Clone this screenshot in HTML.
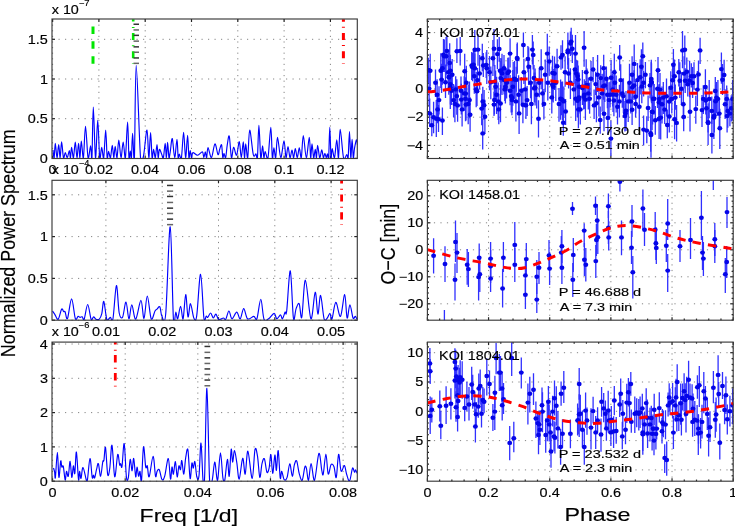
<!DOCTYPE html>
<html><head><meta charset="utf-8"><style>
html,body{margin:0;padding:0;background:#fff;overflow:hidden}
svg{display:block;filter:blur(0.35px)}
text{font-family:"Liberation Sans", sans-serif;stroke:#000;stroke-width:0.15px}
</style></head><body>
<svg width="735" height="526" viewBox="0 0 735 526" font-family='"Liberation Sans", sans-serif'>
<rect width="735" height="526" fill="#fff"/>
<clipPath id="c052"><rect x="52.0" y="19.0" width="305.3" height="139.5"/></clipPath>
<clipPath id="c0427"><rect x="427.4" y="19.0" width="305.80000000000007" height="139.5"/></clipPath>
<clipPath id="c152"><rect x="52.0" y="180.3" width="305.3" height="139.89999999999998"/></clipPath>
<clipPath id="c1427"><rect x="427.4" y="180.3" width="305.80000000000007" height="139.89999999999998"/></clipPath>
<clipPath id="c252"><rect x="52.0" y="342.1" width="305.3" height="139.09999999999997"/></clipPath>
<clipPath id="c2427"><rect x="427.4" y="342.1" width="305.80000000000007" height="139.09999999999997"/></clipPath>
<line x1="52.60" y1="19.0" x2="52.60" y2="158.5" stroke="#858585" stroke-width="1.0" fill="none" stroke-dasharray="1.2 4.4"/>
<line x1="52.60" y1="158.5" x2="52.60" y2="155.5" stroke="#222" stroke-width="1.2"/><line x1="52.60" y1="19.0" x2="52.60" y2="22.0" stroke="#222" stroke-width="1.2"/>
<line x1="98.90" y1="19.0" x2="98.90" y2="158.5" stroke="#858585" stroke-width="1.0" fill="none" stroke-dasharray="1.2 4.4"/>
<line x1="98.90" y1="158.5" x2="98.90" y2="155.5" stroke="#222" stroke-width="1.2"/><line x1="98.90" y1="19.0" x2="98.90" y2="22.0" stroke="#222" stroke-width="1.2"/>
<line x1="145.20" y1="19.0" x2="145.20" y2="158.5" stroke="#858585" stroke-width="1.0" fill="none" stroke-dasharray="1.2 4.4"/>
<line x1="145.20" y1="158.5" x2="145.20" y2="155.5" stroke="#222" stroke-width="1.2"/><line x1="145.20" y1="19.0" x2="145.20" y2="22.0" stroke="#222" stroke-width="1.2"/>
<line x1="191.50" y1="19.0" x2="191.50" y2="158.5" stroke="#858585" stroke-width="1.0" fill="none" stroke-dasharray="1.2 4.4"/>
<line x1="191.50" y1="158.5" x2="191.50" y2="155.5" stroke="#222" stroke-width="1.2"/><line x1="191.50" y1="19.0" x2="191.50" y2="22.0" stroke="#222" stroke-width="1.2"/>
<line x1="237.80" y1="19.0" x2="237.80" y2="158.5" stroke="#858585" stroke-width="1.0" fill="none" stroke-dasharray="1.2 4.4"/>
<line x1="237.80" y1="158.5" x2="237.80" y2="155.5" stroke="#222" stroke-width="1.2"/><line x1="237.80" y1="19.0" x2="237.80" y2="22.0" stroke="#222" stroke-width="1.2"/>
<line x1="284.10" y1="19.0" x2="284.10" y2="158.5" stroke="#858585" stroke-width="1.0" fill="none" stroke-dasharray="1.2 4.4"/>
<line x1="284.10" y1="158.5" x2="284.10" y2="155.5" stroke="#222" stroke-width="1.2"/><line x1="284.10" y1="19.0" x2="284.10" y2="22.0" stroke="#222" stroke-width="1.2"/>
<line x1="330.40" y1="19.0" x2="330.40" y2="158.5" stroke="#858585" stroke-width="1.0" fill="none" stroke-dasharray="1.2 4.4"/>
<line x1="330.40" y1="158.5" x2="330.40" y2="155.5" stroke="#222" stroke-width="1.2"/><line x1="330.40" y1="19.0" x2="330.40" y2="22.0" stroke="#222" stroke-width="1.2"/>
<line x1="52.0" y1="158.40" x2="357.3" y2="158.40" stroke="#858585" stroke-width="1.0" fill="none" stroke-dasharray="1.2 5.3"/>
<line x1="52.0" y1="158.40" x2="55.0" y2="158.40" stroke="#222" stroke-width="1.2"/><line x1="357.3" y1="158.40" x2="354.3" y2="158.40" stroke="#222" stroke-width="1.2"/>
<line x1="52.0" y1="118.70" x2="357.3" y2="118.70" stroke="#858585" stroke-width="1.0" fill="none" stroke-dasharray="1.2 5.3"/>
<line x1="52.0" y1="118.70" x2="55.0" y2="118.70" stroke="#222" stroke-width="1.2"/><line x1="357.3" y1="118.70" x2="354.3" y2="118.70" stroke="#222" stroke-width="1.2"/>
<line x1="52.0" y1="79.00" x2="357.3" y2="79.00" stroke="#858585" stroke-width="1.0" fill="none" stroke-dasharray="1.2 5.3"/>
<line x1="52.0" y1="79.00" x2="55.0" y2="79.00" stroke="#222" stroke-width="1.2"/><line x1="357.3" y1="79.00" x2="354.3" y2="79.00" stroke="#222" stroke-width="1.2"/>
<line x1="52.0" y1="39.30" x2="357.3" y2="39.30" stroke="#858585" stroke-width="1.0" fill="none" stroke-dasharray="1.2 5.3"/>
<line x1="52.0" y1="39.30" x2="55.0" y2="39.30" stroke="#222" stroke-width="1.2"/><line x1="357.3" y1="39.30" x2="354.3" y2="39.30" stroke="#222" stroke-width="1.2"/>
<line x1="105.90" y1="180.3" x2="105.90" y2="320.2" stroke="#858585" stroke-width="1.0" fill="none" stroke-dasharray="1.2 4.4"/>
<line x1="105.90" y1="320.2" x2="105.90" y2="317.2" stroke="#222" stroke-width="1.2"/><line x1="105.90" y1="180.3" x2="105.90" y2="183.3" stroke="#222" stroke-width="1.2"/>
<line x1="162.20" y1="180.3" x2="162.20" y2="320.2" stroke="#858585" stroke-width="1.0" fill="none" stroke-dasharray="1.2 4.4"/>
<line x1="162.20" y1="320.2" x2="162.20" y2="317.2" stroke="#222" stroke-width="1.2"/><line x1="162.20" y1="180.3" x2="162.20" y2="183.3" stroke="#222" stroke-width="1.2"/>
<line x1="218.50" y1="180.3" x2="218.50" y2="320.2" stroke="#858585" stroke-width="1.0" fill="none" stroke-dasharray="1.2 4.4"/>
<line x1="218.50" y1="320.2" x2="218.50" y2="317.2" stroke="#222" stroke-width="1.2"/><line x1="218.50" y1="180.3" x2="218.50" y2="183.3" stroke="#222" stroke-width="1.2"/>
<line x1="274.80" y1="180.3" x2="274.80" y2="320.2" stroke="#858585" stroke-width="1.0" fill="none" stroke-dasharray="1.2 4.4"/>
<line x1="274.80" y1="320.2" x2="274.80" y2="317.2" stroke="#222" stroke-width="1.2"/><line x1="274.80" y1="180.3" x2="274.80" y2="183.3" stroke="#222" stroke-width="1.2"/>
<line x1="331.10" y1="180.3" x2="331.10" y2="320.2" stroke="#858585" stroke-width="1.0" fill="none" stroke-dasharray="1.2 4.4"/>
<line x1="331.10" y1="320.2" x2="331.10" y2="317.2" stroke="#222" stroke-width="1.2"/><line x1="331.10" y1="180.3" x2="331.10" y2="183.3" stroke="#222" stroke-width="1.2"/>
<line x1="52.0" y1="320.20" x2="357.3" y2="320.20" stroke="#858585" stroke-width="1.0" fill="none" stroke-dasharray="1.2 5.3"/>
<line x1="52.0" y1="320.20" x2="55.0" y2="320.20" stroke="#222" stroke-width="1.2"/><line x1="357.3" y1="320.20" x2="354.3" y2="320.20" stroke="#222" stroke-width="1.2"/>
<line x1="52.0" y1="278.40" x2="357.3" y2="278.40" stroke="#858585" stroke-width="1.0" fill="none" stroke-dasharray="1.2 5.3"/>
<line x1="52.0" y1="278.40" x2="55.0" y2="278.40" stroke="#222" stroke-width="1.2"/><line x1="357.3" y1="278.40" x2="354.3" y2="278.40" stroke="#222" stroke-width="1.2"/>
<line x1="52.0" y1="236.60" x2="357.3" y2="236.60" stroke="#858585" stroke-width="1.0" fill="none" stroke-dasharray="1.2 5.3"/>
<line x1="52.0" y1="236.60" x2="55.0" y2="236.60" stroke="#222" stroke-width="1.2"/><line x1="357.3" y1="236.60" x2="354.3" y2="236.60" stroke="#222" stroke-width="1.2"/>
<line x1="52.0" y1="194.80" x2="357.3" y2="194.80" stroke="#858585" stroke-width="1.0" fill="none" stroke-dasharray="1.2 5.3"/>
<line x1="52.0" y1="194.80" x2="55.0" y2="194.80" stroke="#222" stroke-width="1.2"/><line x1="357.3" y1="194.80" x2="354.3" y2="194.80" stroke="#222" stroke-width="1.2"/>
<line x1="52.57" y1="342.1" x2="52.57" y2="481.2" stroke="#858585" stroke-width="1.0" fill="none" stroke-dasharray="1.2 4.4"/>
<line x1="52.57" y1="481.2" x2="52.57" y2="478.2" stroke="#222" stroke-width="1.2"/><line x1="52.57" y1="342.1" x2="52.57" y2="345.1" stroke="#222" stroke-width="1.2"/>
<line x1="125.20" y1="342.1" x2="125.20" y2="481.2" stroke="#858585" stroke-width="1.0" fill="none" stroke-dasharray="1.2 4.4"/>
<line x1="125.20" y1="481.2" x2="125.20" y2="478.2" stroke="#222" stroke-width="1.2"/><line x1="125.20" y1="342.1" x2="125.20" y2="345.1" stroke="#222" stroke-width="1.2"/>
<line x1="197.84" y1="342.1" x2="197.84" y2="481.2" stroke="#858585" stroke-width="1.0" fill="none" stroke-dasharray="1.2 4.4"/>
<line x1="197.84" y1="481.2" x2="197.84" y2="478.2" stroke="#222" stroke-width="1.2"/><line x1="197.84" y1="342.1" x2="197.84" y2="345.1" stroke="#222" stroke-width="1.2"/>
<line x1="270.47" y1="342.1" x2="270.47" y2="481.2" stroke="#858585" stroke-width="1.0" fill="none" stroke-dasharray="1.2 4.4"/>
<line x1="270.47" y1="481.2" x2="270.47" y2="478.2" stroke="#222" stroke-width="1.2"/><line x1="270.47" y1="342.1" x2="270.47" y2="345.1" stroke="#222" stroke-width="1.2"/>
<line x1="343.11" y1="342.1" x2="343.11" y2="481.2" stroke="#858585" stroke-width="1.0" fill="none" stroke-dasharray="1.2 4.4"/>
<line x1="343.11" y1="481.2" x2="343.11" y2="478.2" stroke="#222" stroke-width="1.2"/><line x1="343.11" y1="342.1" x2="343.11" y2="345.1" stroke="#222" stroke-width="1.2"/>
<line x1="52.0" y1="481.20" x2="357.3" y2="481.20" stroke="#858585" stroke-width="1.0" fill="none" stroke-dasharray="1.2 5.3"/>
<line x1="52.0" y1="481.20" x2="55.0" y2="481.20" stroke="#222" stroke-width="1.2"/><line x1="357.3" y1="481.20" x2="354.3" y2="481.20" stroke="#222" stroke-width="1.2"/>
<line x1="52.0" y1="446.90" x2="357.3" y2="446.90" stroke="#858585" stroke-width="1.0" fill="none" stroke-dasharray="1.2 5.3"/>
<line x1="52.0" y1="446.90" x2="55.0" y2="446.90" stroke="#222" stroke-width="1.2"/><line x1="357.3" y1="446.90" x2="354.3" y2="446.90" stroke="#222" stroke-width="1.2"/>
<line x1="52.0" y1="412.60" x2="357.3" y2="412.60" stroke="#858585" stroke-width="1.0" fill="none" stroke-dasharray="1.2 5.3"/>
<line x1="52.0" y1="412.60" x2="55.0" y2="412.60" stroke="#222" stroke-width="1.2"/><line x1="357.3" y1="412.60" x2="354.3" y2="412.60" stroke="#222" stroke-width="1.2"/>
<line x1="52.0" y1="378.30" x2="357.3" y2="378.30" stroke="#858585" stroke-width="1.0" fill="none" stroke-dasharray="1.2 5.3"/>
<line x1="52.0" y1="378.30" x2="55.0" y2="378.30" stroke="#222" stroke-width="1.2"/><line x1="357.3" y1="378.30" x2="354.3" y2="378.30" stroke="#222" stroke-width="1.2"/>
<line x1="52.0" y1="344.00" x2="357.3" y2="344.00" stroke="#858585" stroke-width="1.0" fill="none" stroke-dasharray="1.2 5.3"/>
<line x1="52.0" y1="344.00" x2="55.0" y2="344.00" stroke="#222" stroke-width="1.2"/><line x1="357.3" y1="344.00" x2="354.3" y2="344.00" stroke="#222" stroke-width="1.2"/>
<line x1="427.40" y1="19.0" x2="427.40" y2="158.5" stroke="#858585" stroke-width="1.0" fill="none" stroke-dasharray="1.2 4.4"/>
<line x1="427.40" y1="158.5" x2="427.40" y2="155.5" stroke="#222" stroke-width="1.2"/><line x1="427.40" y1="19.0" x2="427.40" y2="22.0" stroke="#222" stroke-width="1.2"/>
<line x1="488.56" y1="19.0" x2="488.56" y2="158.5" stroke="#858585" stroke-width="1.0" fill="none" stroke-dasharray="1.2 4.4"/>
<line x1="488.56" y1="158.5" x2="488.56" y2="155.5" stroke="#222" stroke-width="1.2"/><line x1="488.56" y1="19.0" x2="488.56" y2="22.0" stroke="#222" stroke-width="1.2"/>
<line x1="549.72" y1="19.0" x2="549.72" y2="158.5" stroke="#858585" stroke-width="1.0" fill="none" stroke-dasharray="1.2 4.4"/>
<line x1="549.72" y1="158.5" x2="549.72" y2="155.5" stroke="#222" stroke-width="1.2"/><line x1="549.72" y1="19.0" x2="549.72" y2="22.0" stroke="#222" stroke-width="1.2"/>
<line x1="610.88" y1="19.0" x2="610.88" y2="158.5" stroke="#858585" stroke-width="1.0" fill="none" stroke-dasharray="1.2 4.4"/>
<line x1="610.88" y1="158.5" x2="610.88" y2="155.5" stroke="#222" stroke-width="1.2"/><line x1="610.88" y1="19.0" x2="610.88" y2="22.0" stroke="#222" stroke-width="1.2"/>
<line x1="672.04" y1="19.0" x2="672.04" y2="158.5" stroke="#858585" stroke-width="1.0" fill="none" stroke-dasharray="1.2 4.4"/>
<line x1="672.04" y1="158.5" x2="672.04" y2="155.5" stroke="#222" stroke-width="1.2"/><line x1="672.04" y1="19.0" x2="672.04" y2="22.0" stroke="#222" stroke-width="1.2"/>
<line x1="733.20" y1="19.0" x2="733.20" y2="158.5" stroke="#858585" stroke-width="1.0" fill="none" stroke-dasharray="1.2 4.4"/>
<line x1="733.20" y1="158.5" x2="733.20" y2="155.5" stroke="#222" stroke-width="1.2"/><line x1="733.20" y1="19.0" x2="733.20" y2="22.0" stroke="#222" stroke-width="1.2"/>
<line x1="439.63" y1="158.5" x2="439.63" y2="156.9" stroke="#222" stroke-width="1.2"/><line x1="439.63" y1="19.0" x2="439.63" y2="20.6" stroke="#222" stroke-width="1.2"/>
<line x1="451.86" y1="158.5" x2="451.86" y2="156.9" stroke="#222" stroke-width="1.2"/><line x1="451.86" y1="19.0" x2="451.86" y2="20.6" stroke="#222" stroke-width="1.2"/>
<line x1="464.10" y1="158.5" x2="464.10" y2="156.9" stroke="#222" stroke-width="1.2"/><line x1="464.10" y1="19.0" x2="464.10" y2="20.6" stroke="#222" stroke-width="1.2"/>
<line x1="476.33" y1="158.5" x2="476.33" y2="156.9" stroke="#222" stroke-width="1.2"/><line x1="476.33" y1="19.0" x2="476.33" y2="20.6" stroke="#222" stroke-width="1.2"/>
<line x1="500.79" y1="158.5" x2="500.79" y2="156.9" stroke="#222" stroke-width="1.2"/><line x1="500.79" y1="19.0" x2="500.79" y2="20.6" stroke="#222" stroke-width="1.2"/>
<line x1="513.02" y1="158.5" x2="513.02" y2="156.9" stroke="#222" stroke-width="1.2"/><line x1="513.02" y1="19.0" x2="513.02" y2="20.6" stroke="#222" stroke-width="1.2"/>
<line x1="525.26" y1="158.5" x2="525.26" y2="156.9" stroke="#222" stroke-width="1.2"/><line x1="525.26" y1="19.0" x2="525.26" y2="20.6" stroke="#222" stroke-width="1.2"/>
<line x1="537.49" y1="158.5" x2="537.49" y2="156.9" stroke="#222" stroke-width="1.2"/><line x1="537.49" y1="19.0" x2="537.49" y2="20.6" stroke="#222" stroke-width="1.2"/>
<line x1="561.95" y1="158.5" x2="561.95" y2="156.9" stroke="#222" stroke-width="1.2"/><line x1="561.95" y1="19.0" x2="561.95" y2="20.6" stroke="#222" stroke-width="1.2"/>
<line x1="574.18" y1="158.5" x2="574.18" y2="156.9" stroke="#222" stroke-width="1.2"/><line x1="574.18" y1="19.0" x2="574.18" y2="20.6" stroke="#222" stroke-width="1.2"/>
<line x1="586.42" y1="158.5" x2="586.42" y2="156.9" stroke="#222" stroke-width="1.2"/><line x1="586.42" y1="19.0" x2="586.42" y2="20.6" stroke="#222" stroke-width="1.2"/>
<line x1="598.65" y1="158.5" x2="598.65" y2="156.9" stroke="#222" stroke-width="1.2"/><line x1="598.65" y1="19.0" x2="598.65" y2="20.6" stroke="#222" stroke-width="1.2"/>
<line x1="623.11" y1="158.5" x2="623.11" y2="156.9" stroke="#222" stroke-width="1.2"/><line x1="623.11" y1="19.0" x2="623.11" y2="20.6" stroke="#222" stroke-width="1.2"/>
<line x1="635.34" y1="158.5" x2="635.34" y2="156.9" stroke="#222" stroke-width="1.2"/><line x1="635.34" y1="19.0" x2="635.34" y2="20.6" stroke="#222" stroke-width="1.2"/>
<line x1="647.58" y1="158.5" x2="647.58" y2="156.9" stroke="#222" stroke-width="1.2"/><line x1="647.58" y1="19.0" x2="647.58" y2="20.6" stroke="#222" stroke-width="1.2"/>
<line x1="659.81" y1="158.5" x2="659.81" y2="156.9" stroke="#222" stroke-width="1.2"/><line x1="659.81" y1="19.0" x2="659.81" y2="20.6" stroke="#222" stroke-width="1.2"/>
<line x1="684.27" y1="158.5" x2="684.27" y2="156.9" stroke="#222" stroke-width="1.2"/><line x1="684.27" y1="19.0" x2="684.27" y2="20.6" stroke="#222" stroke-width="1.2"/>
<line x1="696.50" y1="158.5" x2="696.50" y2="156.9" stroke="#222" stroke-width="1.2"/><line x1="696.50" y1="19.0" x2="696.50" y2="20.6" stroke="#222" stroke-width="1.2"/>
<line x1="708.74" y1="158.5" x2="708.74" y2="156.9" stroke="#222" stroke-width="1.2"/><line x1="708.74" y1="19.0" x2="708.74" y2="20.6" stroke="#222" stroke-width="1.2"/>
<line x1="720.97" y1="158.5" x2="720.97" y2="156.9" stroke="#222" stroke-width="1.2"/><line x1="720.97" y1="19.0" x2="720.97" y2="20.6" stroke="#222" stroke-width="1.2"/>
<line x1="427.4" y1="145.40" x2="733.2" y2="145.40" stroke="#858585" stroke-width="1.0" fill="none" stroke-dasharray="1.2 5.3"/>
<line x1="427.4" y1="145.40" x2="430.4" y2="145.40" stroke="#222" stroke-width="1.2"/><line x1="733.2" y1="145.40" x2="730.2" y2="145.40" stroke="#222" stroke-width="1.2"/>
<line x1="427.4" y1="117.20" x2="733.2" y2="117.20" stroke="#858585" stroke-width="1.0" fill="none" stroke-dasharray="1.2 5.3"/>
<line x1="427.4" y1="117.20" x2="430.4" y2="117.20" stroke="#222" stroke-width="1.2"/><line x1="733.2" y1="117.20" x2="730.2" y2="117.20" stroke="#222" stroke-width="1.2"/>
<line x1="427.4" y1="89.00" x2="733.2" y2="89.00" stroke="#858585" stroke-width="1.0" fill="none" stroke-dasharray="1.2 5.3"/>
<line x1="427.4" y1="89.00" x2="430.4" y2="89.00" stroke="#222" stroke-width="1.2"/><line x1="733.2" y1="89.00" x2="730.2" y2="89.00" stroke="#222" stroke-width="1.2"/>
<line x1="427.4" y1="60.80" x2="733.2" y2="60.80" stroke="#858585" stroke-width="1.0" fill="none" stroke-dasharray="1.2 5.3"/>
<line x1="427.4" y1="60.80" x2="430.4" y2="60.80" stroke="#222" stroke-width="1.2"/><line x1="733.2" y1="60.80" x2="730.2" y2="60.80" stroke="#222" stroke-width="1.2"/>
<line x1="427.4" y1="32.60" x2="733.2" y2="32.60" stroke="#858585" stroke-width="1.0" fill="none" stroke-dasharray="1.2 5.3"/>
<line x1="427.4" y1="32.60" x2="430.4" y2="32.60" stroke="#222" stroke-width="1.2"/><line x1="733.2" y1="32.60" x2="730.2" y2="32.60" stroke="#222" stroke-width="1.2"/>
<line x1="427.4" y1="156.68" x2="429.0" y2="156.68" stroke="#222" stroke-width="1.2"/><line x1="733.2" y1="156.68" x2="731.6" y2="156.68" stroke="#222" stroke-width="1.2"/>
<line x1="427.4" y1="151.04" x2="429.0" y2="151.04" stroke="#222" stroke-width="1.2"/><line x1="733.2" y1="151.04" x2="731.6" y2="151.04" stroke="#222" stroke-width="1.2"/>
<line x1="427.4" y1="139.76" x2="429.0" y2="139.76" stroke="#222" stroke-width="1.2"/><line x1="733.2" y1="139.76" x2="731.6" y2="139.76" stroke="#222" stroke-width="1.2"/>
<line x1="427.4" y1="134.12" x2="429.0" y2="134.12" stroke="#222" stroke-width="1.2"/><line x1="733.2" y1="134.12" x2="731.6" y2="134.12" stroke="#222" stroke-width="1.2"/>
<line x1="427.4" y1="128.48" x2="429.0" y2="128.48" stroke="#222" stroke-width="1.2"/><line x1="733.2" y1="128.48" x2="731.6" y2="128.48" stroke="#222" stroke-width="1.2"/>
<line x1="427.4" y1="122.84" x2="429.0" y2="122.84" stroke="#222" stroke-width="1.2"/><line x1="733.2" y1="122.84" x2="731.6" y2="122.84" stroke="#222" stroke-width="1.2"/>
<line x1="427.4" y1="111.56" x2="429.0" y2="111.56" stroke="#222" stroke-width="1.2"/><line x1="733.2" y1="111.56" x2="731.6" y2="111.56" stroke="#222" stroke-width="1.2"/>
<line x1="427.4" y1="105.92" x2="429.0" y2="105.92" stroke="#222" stroke-width="1.2"/><line x1="733.2" y1="105.92" x2="731.6" y2="105.92" stroke="#222" stroke-width="1.2"/>
<line x1="427.4" y1="100.28" x2="429.0" y2="100.28" stroke="#222" stroke-width="1.2"/><line x1="733.2" y1="100.28" x2="731.6" y2="100.28" stroke="#222" stroke-width="1.2"/>
<line x1="427.4" y1="94.64" x2="429.0" y2="94.64" stroke="#222" stroke-width="1.2"/><line x1="733.2" y1="94.64" x2="731.6" y2="94.64" stroke="#222" stroke-width="1.2"/>
<line x1="427.4" y1="83.36" x2="429.0" y2="83.36" stroke="#222" stroke-width="1.2"/><line x1="733.2" y1="83.36" x2="731.6" y2="83.36" stroke="#222" stroke-width="1.2"/>
<line x1="427.4" y1="77.72" x2="429.0" y2="77.72" stroke="#222" stroke-width="1.2"/><line x1="733.2" y1="77.72" x2="731.6" y2="77.72" stroke="#222" stroke-width="1.2"/>
<line x1="427.4" y1="72.08" x2="429.0" y2="72.08" stroke="#222" stroke-width="1.2"/><line x1="733.2" y1="72.08" x2="731.6" y2="72.08" stroke="#222" stroke-width="1.2"/>
<line x1="427.4" y1="66.44" x2="429.0" y2="66.44" stroke="#222" stroke-width="1.2"/><line x1="733.2" y1="66.44" x2="731.6" y2="66.44" stroke="#222" stroke-width="1.2"/>
<line x1="427.4" y1="55.16" x2="429.0" y2="55.16" stroke="#222" stroke-width="1.2"/><line x1="733.2" y1="55.16" x2="731.6" y2="55.16" stroke="#222" stroke-width="1.2"/>
<line x1="427.4" y1="49.52" x2="429.0" y2="49.52" stroke="#222" stroke-width="1.2"/><line x1="733.2" y1="49.52" x2="731.6" y2="49.52" stroke="#222" stroke-width="1.2"/>
<line x1="427.4" y1="43.88" x2="429.0" y2="43.88" stroke="#222" stroke-width="1.2"/><line x1="733.2" y1="43.88" x2="731.6" y2="43.88" stroke="#222" stroke-width="1.2"/>
<line x1="427.4" y1="38.24" x2="429.0" y2="38.24" stroke="#222" stroke-width="1.2"/><line x1="733.2" y1="38.24" x2="731.6" y2="38.24" stroke="#222" stroke-width="1.2"/>
<line x1="427.4" y1="26.96" x2="429.0" y2="26.96" stroke="#222" stroke-width="1.2"/><line x1="733.2" y1="26.96" x2="731.6" y2="26.96" stroke="#222" stroke-width="1.2"/>
<line x1="427.4" y1="21.32" x2="429.0" y2="21.32" stroke="#222" stroke-width="1.2"/><line x1="733.2" y1="21.32" x2="731.6" y2="21.32" stroke="#222" stroke-width="1.2"/>
<line x1="427.40" y1="180.3" x2="427.40" y2="320.2" stroke="#858585" stroke-width="1.0" fill="none" stroke-dasharray="1.2 4.4"/>
<line x1="427.40" y1="320.2" x2="427.40" y2="317.2" stroke="#222" stroke-width="1.2"/><line x1="427.40" y1="180.3" x2="427.40" y2="183.3" stroke="#222" stroke-width="1.2"/>
<line x1="488.56" y1="180.3" x2="488.56" y2="320.2" stroke="#858585" stroke-width="1.0" fill="none" stroke-dasharray="1.2 4.4"/>
<line x1="488.56" y1="320.2" x2="488.56" y2="317.2" stroke="#222" stroke-width="1.2"/><line x1="488.56" y1="180.3" x2="488.56" y2="183.3" stroke="#222" stroke-width="1.2"/>
<line x1="549.72" y1="180.3" x2="549.72" y2="320.2" stroke="#858585" stroke-width="1.0" fill="none" stroke-dasharray="1.2 4.4"/>
<line x1="549.72" y1="320.2" x2="549.72" y2="317.2" stroke="#222" stroke-width="1.2"/><line x1="549.72" y1="180.3" x2="549.72" y2="183.3" stroke="#222" stroke-width="1.2"/>
<line x1="610.88" y1="180.3" x2="610.88" y2="320.2" stroke="#858585" stroke-width="1.0" fill="none" stroke-dasharray="1.2 4.4"/>
<line x1="610.88" y1="320.2" x2="610.88" y2="317.2" stroke="#222" stroke-width="1.2"/><line x1="610.88" y1="180.3" x2="610.88" y2="183.3" stroke="#222" stroke-width="1.2"/>
<line x1="672.04" y1="180.3" x2="672.04" y2="320.2" stroke="#858585" stroke-width="1.0" fill="none" stroke-dasharray="1.2 4.4"/>
<line x1="672.04" y1="320.2" x2="672.04" y2="317.2" stroke="#222" stroke-width="1.2"/><line x1="672.04" y1="180.3" x2="672.04" y2="183.3" stroke="#222" stroke-width="1.2"/>
<line x1="733.20" y1="180.3" x2="733.20" y2="320.2" stroke="#858585" stroke-width="1.0" fill="none" stroke-dasharray="1.2 4.4"/>
<line x1="733.20" y1="320.2" x2="733.20" y2="317.2" stroke="#222" stroke-width="1.2"/><line x1="733.20" y1="180.3" x2="733.20" y2="183.3" stroke="#222" stroke-width="1.2"/>
<line x1="439.63" y1="320.2" x2="439.63" y2="318.59999999999997" stroke="#222" stroke-width="1.2"/><line x1="439.63" y1="180.3" x2="439.63" y2="181.9" stroke="#222" stroke-width="1.2"/>
<line x1="451.86" y1="320.2" x2="451.86" y2="318.59999999999997" stroke="#222" stroke-width="1.2"/><line x1="451.86" y1="180.3" x2="451.86" y2="181.9" stroke="#222" stroke-width="1.2"/>
<line x1="464.10" y1="320.2" x2="464.10" y2="318.59999999999997" stroke="#222" stroke-width="1.2"/><line x1="464.10" y1="180.3" x2="464.10" y2="181.9" stroke="#222" stroke-width="1.2"/>
<line x1="476.33" y1="320.2" x2="476.33" y2="318.59999999999997" stroke="#222" stroke-width="1.2"/><line x1="476.33" y1="180.3" x2="476.33" y2="181.9" stroke="#222" stroke-width="1.2"/>
<line x1="500.79" y1="320.2" x2="500.79" y2="318.59999999999997" stroke="#222" stroke-width="1.2"/><line x1="500.79" y1="180.3" x2="500.79" y2="181.9" stroke="#222" stroke-width="1.2"/>
<line x1="513.02" y1="320.2" x2="513.02" y2="318.59999999999997" stroke="#222" stroke-width="1.2"/><line x1="513.02" y1="180.3" x2="513.02" y2="181.9" stroke="#222" stroke-width="1.2"/>
<line x1="525.26" y1="320.2" x2="525.26" y2="318.59999999999997" stroke="#222" stroke-width="1.2"/><line x1="525.26" y1="180.3" x2="525.26" y2="181.9" stroke="#222" stroke-width="1.2"/>
<line x1="537.49" y1="320.2" x2="537.49" y2="318.59999999999997" stroke="#222" stroke-width="1.2"/><line x1="537.49" y1="180.3" x2="537.49" y2="181.9" stroke="#222" stroke-width="1.2"/>
<line x1="561.95" y1="320.2" x2="561.95" y2="318.59999999999997" stroke="#222" stroke-width="1.2"/><line x1="561.95" y1="180.3" x2="561.95" y2="181.9" stroke="#222" stroke-width="1.2"/>
<line x1="574.18" y1="320.2" x2="574.18" y2="318.59999999999997" stroke="#222" stroke-width="1.2"/><line x1="574.18" y1="180.3" x2="574.18" y2="181.9" stroke="#222" stroke-width="1.2"/>
<line x1="586.42" y1="320.2" x2="586.42" y2="318.59999999999997" stroke="#222" stroke-width="1.2"/><line x1="586.42" y1="180.3" x2="586.42" y2="181.9" stroke="#222" stroke-width="1.2"/>
<line x1="598.65" y1="320.2" x2="598.65" y2="318.59999999999997" stroke="#222" stroke-width="1.2"/><line x1="598.65" y1="180.3" x2="598.65" y2="181.9" stroke="#222" stroke-width="1.2"/>
<line x1="623.11" y1="320.2" x2="623.11" y2="318.59999999999997" stroke="#222" stroke-width="1.2"/><line x1="623.11" y1="180.3" x2="623.11" y2="181.9" stroke="#222" stroke-width="1.2"/>
<line x1="635.34" y1="320.2" x2="635.34" y2="318.59999999999997" stroke="#222" stroke-width="1.2"/><line x1="635.34" y1="180.3" x2="635.34" y2="181.9" stroke="#222" stroke-width="1.2"/>
<line x1="647.58" y1="320.2" x2="647.58" y2="318.59999999999997" stroke="#222" stroke-width="1.2"/><line x1="647.58" y1="180.3" x2="647.58" y2="181.9" stroke="#222" stroke-width="1.2"/>
<line x1="659.81" y1="320.2" x2="659.81" y2="318.59999999999997" stroke="#222" stroke-width="1.2"/><line x1="659.81" y1="180.3" x2="659.81" y2="181.9" stroke="#222" stroke-width="1.2"/>
<line x1="684.27" y1="320.2" x2="684.27" y2="318.59999999999997" stroke="#222" stroke-width="1.2"/><line x1="684.27" y1="180.3" x2="684.27" y2="181.9" stroke="#222" stroke-width="1.2"/>
<line x1="696.50" y1="320.2" x2="696.50" y2="318.59999999999997" stroke="#222" stroke-width="1.2"/><line x1="696.50" y1="180.3" x2="696.50" y2="181.9" stroke="#222" stroke-width="1.2"/>
<line x1="708.74" y1="320.2" x2="708.74" y2="318.59999999999997" stroke="#222" stroke-width="1.2"/><line x1="708.74" y1="180.3" x2="708.74" y2="181.9" stroke="#222" stroke-width="1.2"/>
<line x1="720.97" y1="320.2" x2="720.97" y2="318.59999999999997" stroke="#222" stroke-width="1.2"/><line x1="720.97" y1="180.3" x2="720.97" y2="181.9" stroke="#222" stroke-width="1.2"/>
<line x1="427.4" y1="303.80" x2="733.2" y2="303.80" stroke="#858585" stroke-width="1.0" fill="none" stroke-dasharray="1.2 5.3"/>
<line x1="427.4" y1="303.80" x2="430.4" y2="303.80" stroke="#222" stroke-width="1.2"/><line x1="733.2" y1="303.80" x2="730.2" y2="303.80" stroke="#222" stroke-width="1.2"/>
<line x1="427.4" y1="276.80" x2="733.2" y2="276.80" stroke="#858585" stroke-width="1.0" fill="none" stroke-dasharray="1.2 5.3"/>
<line x1="427.4" y1="276.80" x2="430.4" y2="276.80" stroke="#222" stroke-width="1.2"/><line x1="733.2" y1="276.80" x2="730.2" y2="276.80" stroke="#222" stroke-width="1.2"/>
<line x1="427.4" y1="249.80" x2="733.2" y2="249.80" stroke="#858585" stroke-width="1.0" fill="none" stroke-dasharray="1.2 5.3"/>
<line x1="427.4" y1="249.80" x2="430.4" y2="249.80" stroke="#222" stroke-width="1.2"/><line x1="733.2" y1="249.80" x2="730.2" y2="249.80" stroke="#222" stroke-width="1.2"/>
<line x1="427.4" y1="222.80" x2="733.2" y2="222.80" stroke="#858585" stroke-width="1.0" fill="none" stroke-dasharray="1.2 5.3"/>
<line x1="427.4" y1="222.80" x2="430.4" y2="222.80" stroke="#222" stroke-width="1.2"/><line x1="733.2" y1="222.80" x2="730.2" y2="222.80" stroke="#222" stroke-width="1.2"/>
<line x1="427.4" y1="195.80" x2="733.2" y2="195.80" stroke="#858585" stroke-width="1.0" fill="none" stroke-dasharray="1.2 5.3"/>
<line x1="427.4" y1="195.80" x2="430.4" y2="195.80" stroke="#222" stroke-width="1.2"/><line x1="733.2" y1="195.80" x2="730.2" y2="195.80" stroke="#222" stroke-width="1.2"/>
<line x1="427.4" y1="320.00" x2="429.0" y2="320.00" stroke="#222" stroke-width="1.2"/><line x1="733.2" y1="320.00" x2="731.6" y2="320.00" stroke="#222" stroke-width="1.2"/>
<line x1="427.4" y1="314.60" x2="429.0" y2="314.60" stroke="#222" stroke-width="1.2"/><line x1="733.2" y1="314.60" x2="731.6" y2="314.60" stroke="#222" stroke-width="1.2"/>
<line x1="427.4" y1="309.20" x2="429.0" y2="309.20" stroke="#222" stroke-width="1.2"/><line x1="733.2" y1="309.20" x2="731.6" y2="309.20" stroke="#222" stroke-width="1.2"/>
<line x1="427.4" y1="298.40" x2="429.0" y2="298.40" stroke="#222" stroke-width="1.2"/><line x1="733.2" y1="298.40" x2="731.6" y2="298.40" stroke="#222" stroke-width="1.2"/>
<line x1="427.4" y1="293.00" x2="429.0" y2="293.00" stroke="#222" stroke-width="1.2"/><line x1="733.2" y1="293.00" x2="731.6" y2="293.00" stroke="#222" stroke-width="1.2"/>
<line x1="427.4" y1="287.60" x2="429.0" y2="287.60" stroke="#222" stroke-width="1.2"/><line x1="733.2" y1="287.60" x2="731.6" y2="287.60" stroke="#222" stroke-width="1.2"/>
<line x1="427.4" y1="282.20" x2="429.0" y2="282.20" stroke="#222" stroke-width="1.2"/><line x1="733.2" y1="282.20" x2="731.6" y2="282.20" stroke="#222" stroke-width="1.2"/>
<line x1="427.4" y1="271.40" x2="429.0" y2="271.40" stroke="#222" stroke-width="1.2"/><line x1="733.2" y1="271.40" x2="731.6" y2="271.40" stroke="#222" stroke-width="1.2"/>
<line x1="427.4" y1="266.00" x2="429.0" y2="266.00" stroke="#222" stroke-width="1.2"/><line x1="733.2" y1="266.00" x2="731.6" y2="266.00" stroke="#222" stroke-width="1.2"/>
<line x1="427.4" y1="260.60" x2="429.0" y2="260.60" stroke="#222" stroke-width="1.2"/><line x1="733.2" y1="260.60" x2="731.6" y2="260.60" stroke="#222" stroke-width="1.2"/>
<line x1="427.4" y1="255.20" x2="429.0" y2="255.20" stroke="#222" stroke-width="1.2"/><line x1="733.2" y1="255.20" x2="731.6" y2="255.20" stroke="#222" stroke-width="1.2"/>
<line x1="427.4" y1="244.40" x2="429.0" y2="244.40" stroke="#222" stroke-width="1.2"/><line x1="733.2" y1="244.40" x2="731.6" y2="244.40" stroke="#222" stroke-width="1.2"/>
<line x1="427.4" y1="239.00" x2="429.0" y2="239.00" stroke="#222" stroke-width="1.2"/><line x1="733.2" y1="239.00" x2="731.6" y2="239.00" stroke="#222" stroke-width="1.2"/>
<line x1="427.4" y1="233.60" x2="429.0" y2="233.60" stroke="#222" stroke-width="1.2"/><line x1="733.2" y1="233.60" x2="731.6" y2="233.60" stroke="#222" stroke-width="1.2"/>
<line x1="427.4" y1="228.20" x2="429.0" y2="228.20" stroke="#222" stroke-width="1.2"/><line x1="733.2" y1="228.20" x2="731.6" y2="228.20" stroke="#222" stroke-width="1.2"/>
<line x1="427.4" y1="217.40" x2="429.0" y2="217.40" stroke="#222" stroke-width="1.2"/><line x1="733.2" y1="217.40" x2="731.6" y2="217.40" stroke="#222" stroke-width="1.2"/>
<line x1="427.4" y1="212.00" x2="429.0" y2="212.00" stroke="#222" stroke-width="1.2"/><line x1="733.2" y1="212.00" x2="731.6" y2="212.00" stroke="#222" stroke-width="1.2"/>
<line x1="427.4" y1="206.60" x2="429.0" y2="206.60" stroke="#222" stroke-width="1.2"/><line x1="733.2" y1="206.60" x2="731.6" y2="206.60" stroke="#222" stroke-width="1.2"/>
<line x1="427.4" y1="201.20" x2="429.0" y2="201.20" stroke="#222" stroke-width="1.2"/><line x1="733.2" y1="201.20" x2="731.6" y2="201.20" stroke="#222" stroke-width="1.2"/>
<line x1="427.4" y1="190.40" x2="429.0" y2="190.40" stroke="#222" stroke-width="1.2"/><line x1="733.2" y1="190.40" x2="731.6" y2="190.40" stroke="#222" stroke-width="1.2"/>
<line x1="427.4" y1="185.00" x2="429.0" y2="185.00" stroke="#222" stroke-width="1.2"/><line x1="733.2" y1="185.00" x2="731.6" y2="185.00" stroke="#222" stroke-width="1.2"/>
<line x1="427.40" y1="342.1" x2="427.40" y2="481.2" stroke="#858585" stroke-width="1.0" fill="none" stroke-dasharray="1.2 4.4"/>
<line x1="427.40" y1="481.2" x2="427.40" y2="478.2" stroke="#222" stroke-width="1.2"/><line x1="427.40" y1="342.1" x2="427.40" y2="345.1" stroke="#222" stroke-width="1.2"/>
<line x1="488.56" y1="342.1" x2="488.56" y2="481.2" stroke="#858585" stroke-width="1.0" fill="none" stroke-dasharray="1.2 4.4"/>
<line x1="488.56" y1="481.2" x2="488.56" y2="478.2" stroke="#222" stroke-width="1.2"/><line x1="488.56" y1="342.1" x2="488.56" y2="345.1" stroke="#222" stroke-width="1.2"/>
<line x1="549.72" y1="342.1" x2="549.72" y2="481.2" stroke="#858585" stroke-width="1.0" fill="none" stroke-dasharray="1.2 4.4"/>
<line x1="549.72" y1="481.2" x2="549.72" y2="478.2" stroke="#222" stroke-width="1.2"/><line x1="549.72" y1="342.1" x2="549.72" y2="345.1" stroke="#222" stroke-width="1.2"/>
<line x1="610.88" y1="342.1" x2="610.88" y2="481.2" stroke="#858585" stroke-width="1.0" fill="none" stroke-dasharray="1.2 4.4"/>
<line x1="610.88" y1="481.2" x2="610.88" y2="478.2" stroke="#222" stroke-width="1.2"/><line x1="610.88" y1="342.1" x2="610.88" y2="345.1" stroke="#222" stroke-width="1.2"/>
<line x1="672.04" y1="342.1" x2="672.04" y2="481.2" stroke="#858585" stroke-width="1.0" fill="none" stroke-dasharray="1.2 4.4"/>
<line x1="672.04" y1="481.2" x2="672.04" y2="478.2" stroke="#222" stroke-width="1.2"/><line x1="672.04" y1="342.1" x2="672.04" y2="345.1" stroke="#222" stroke-width="1.2"/>
<line x1="733.20" y1="342.1" x2="733.20" y2="481.2" stroke="#858585" stroke-width="1.0" fill="none" stroke-dasharray="1.2 4.4"/>
<line x1="733.20" y1="481.2" x2="733.20" y2="478.2" stroke="#222" stroke-width="1.2"/><line x1="733.20" y1="342.1" x2="733.20" y2="345.1" stroke="#222" stroke-width="1.2"/>
<line x1="439.63" y1="481.2" x2="439.63" y2="479.59999999999997" stroke="#222" stroke-width="1.2"/><line x1="439.63" y1="342.1" x2="439.63" y2="343.70000000000005" stroke="#222" stroke-width="1.2"/>
<line x1="451.86" y1="481.2" x2="451.86" y2="479.59999999999997" stroke="#222" stroke-width="1.2"/><line x1="451.86" y1="342.1" x2="451.86" y2="343.70000000000005" stroke="#222" stroke-width="1.2"/>
<line x1="464.10" y1="481.2" x2="464.10" y2="479.59999999999997" stroke="#222" stroke-width="1.2"/><line x1="464.10" y1="342.1" x2="464.10" y2="343.70000000000005" stroke="#222" stroke-width="1.2"/>
<line x1="476.33" y1="481.2" x2="476.33" y2="479.59999999999997" stroke="#222" stroke-width="1.2"/><line x1="476.33" y1="342.1" x2="476.33" y2="343.70000000000005" stroke="#222" stroke-width="1.2"/>
<line x1="500.79" y1="481.2" x2="500.79" y2="479.59999999999997" stroke="#222" stroke-width="1.2"/><line x1="500.79" y1="342.1" x2="500.79" y2="343.70000000000005" stroke="#222" stroke-width="1.2"/>
<line x1="513.02" y1="481.2" x2="513.02" y2="479.59999999999997" stroke="#222" stroke-width="1.2"/><line x1="513.02" y1="342.1" x2="513.02" y2="343.70000000000005" stroke="#222" stroke-width="1.2"/>
<line x1="525.26" y1="481.2" x2="525.26" y2="479.59999999999997" stroke="#222" stroke-width="1.2"/><line x1="525.26" y1="342.1" x2="525.26" y2="343.70000000000005" stroke="#222" stroke-width="1.2"/>
<line x1="537.49" y1="481.2" x2="537.49" y2="479.59999999999997" stroke="#222" stroke-width="1.2"/><line x1="537.49" y1="342.1" x2="537.49" y2="343.70000000000005" stroke="#222" stroke-width="1.2"/>
<line x1="561.95" y1="481.2" x2="561.95" y2="479.59999999999997" stroke="#222" stroke-width="1.2"/><line x1="561.95" y1="342.1" x2="561.95" y2="343.70000000000005" stroke="#222" stroke-width="1.2"/>
<line x1="574.18" y1="481.2" x2="574.18" y2="479.59999999999997" stroke="#222" stroke-width="1.2"/><line x1="574.18" y1="342.1" x2="574.18" y2="343.70000000000005" stroke="#222" stroke-width="1.2"/>
<line x1="586.42" y1="481.2" x2="586.42" y2="479.59999999999997" stroke="#222" stroke-width="1.2"/><line x1="586.42" y1="342.1" x2="586.42" y2="343.70000000000005" stroke="#222" stroke-width="1.2"/>
<line x1="598.65" y1="481.2" x2="598.65" y2="479.59999999999997" stroke="#222" stroke-width="1.2"/><line x1="598.65" y1="342.1" x2="598.65" y2="343.70000000000005" stroke="#222" stroke-width="1.2"/>
<line x1="623.11" y1="481.2" x2="623.11" y2="479.59999999999997" stroke="#222" stroke-width="1.2"/><line x1="623.11" y1="342.1" x2="623.11" y2="343.70000000000005" stroke="#222" stroke-width="1.2"/>
<line x1="635.34" y1="481.2" x2="635.34" y2="479.59999999999997" stroke="#222" stroke-width="1.2"/><line x1="635.34" y1="342.1" x2="635.34" y2="343.70000000000005" stroke="#222" stroke-width="1.2"/>
<line x1="647.58" y1="481.2" x2="647.58" y2="479.59999999999997" stroke="#222" stroke-width="1.2"/><line x1="647.58" y1="342.1" x2="647.58" y2="343.70000000000005" stroke="#222" stroke-width="1.2"/>
<line x1="659.81" y1="481.2" x2="659.81" y2="479.59999999999997" stroke="#222" stroke-width="1.2"/><line x1="659.81" y1="342.1" x2="659.81" y2="343.70000000000005" stroke="#222" stroke-width="1.2"/>
<line x1="684.27" y1="481.2" x2="684.27" y2="479.59999999999997" stroke="#222" stroke-width="1.2"/><line x1="684.27" y1="342.1" x2="684.27" y2="343.70000000000005" stroke="#222" stroke-width="1.2"/>
<line x1="696.50" y1="481.2" x2="696.50" y2="479.59999999999997" stroke="#222" stroke-width="1.2"/><line x1="696.50" y1="342.1" x2="696.50" y2="343.70000000000005" stroke="#222" stroke-width="1.2"/>
<line x1="708.74" y1="481.2" x2="708.74" y2="479.59999999999997" stroke="#222" stroke-width="1.2"/><line x1="708.74" y1="342.1" x2="708.74" y2="343.70000000000005" stroke="#222" stroke-width="1.2"/>
<line x1="720.97" y1="481.2" x2="720.97" y2="479.59999999999997" stroke="#222" stroke-width="1.2"/><line x1="720.97" y1="342.1" x2="720.97" y2="343.70000000000005" stroke="#222" stroke-width="1.2"/>
<line x1="427.4" y1="469.90" x2="733.2" y2="469.90" stroke="#858585" stroke-width="1.0" fill="none" stroke-dasharray="1.2 5.3"/>
<line x1="427.4" y1="469.90" x2="430.4" y2="469.90" stroke="#222" stroke-width="1.2"/><line x1="733.2" y1="469.90" x2="730.2" y2="469.90" stroke="#222" stroke-width="1.2"/>
<line x1="427.4" y1="440.60" x2="733.2" y2="440.60" stroke="#858585" stroke-width="1.0" fill="none" stroke-dasharray="1.2 5.3"/>
<line x1="427.4" y1="440.60" x2="430.4" y2="440.60" stroke="#222" stroke-width="1.2"/><line x1="733.2" y1="440.60" x2="730.2" y2="440.60" stroke="#222" stroke-width="1.2"/>
<line x1="427.4" y1="411.30" x2="733.2" y2="411.30" stroke="#858585" stroke-width="1.0" fill="none" stroke-dasharray="1.2 5.3"/>
<line x1="427.4" y1="411.30" x2="430.4" y2="411.30" stroke="#222" stroke-width="1.2"/><line x1="733.2" y1="411.30" x2="730.2" y2="411.30" stroke="#222" stroke-width="1.2"/>
<line x1="427.4" y1="382.00" x2="733.2" y2="382.00" stroke="#858585" stroke-width="1.0" fill="none" stroke-dasharray="1.2 5.3"/>
<line x1="427.4" y1="382.00" x2="430.4" y2="382.00" stroke="#222" stroke-width="1.2"/><line x1="733.2" y1="382.00" x2="730.2" y2="382.00" stroke="#222" stroke-width="1.2"/>
<line x1="427.4" y1="352.70" x2="733.2" y2="352.70" stroke="#858585" stroke-width="1.0" fill="none" stroke-dasharray="1.2 5.3"/>
<line x1="427.4" y1="352.70" x2="430.4" y2="352.70" stroke="#222" stroke-width="1.2"/><line x1="733.2" y1="352.70" x2="730.2" y2="352.70" stroke="#222" stroke-width="1.2"/>
<line x1="427.4" y1="475.76" x2="429.0" y2="475.76" stroke="#222" stroke-width="1.2"/><line x1="733.2" y1="475.76" x2="731.6" y2="475.76" stroke="#222" stroke-width="1.2"/>
<line x1="427.4" y1="464.04" x2="429.0" y2="464.04" stroke="#222" stroke-width="1.2"/><line x1="733.2" y1="464.04" x2="731.6" y2="464.04" stroke="#222" stroke-width="1.2"/>
<line x1="427.4" y1="458.18" x2="429.0" y2="458.18" stroke="#222" stroke-width="1.2"/><line x1="733.2" y1="458.18" x2="731.6" y2="458.18" stroke="#222" stroke-width="1.2"/>
<line x1="427.4" y1="452.32" x2="429.0" y2="452.32" stroke="#222" stroke-width="1.2"/><line x1="733.2" y1="452.32" x2="731.6" y2="452.32" stroke="#222" stroke-width="1.2"/>
<line x1="427.4" y1="446.46" x2="429.0" y2="446.46" stroke="#222" stroke-width="1.2"/><line x1="733.2" y1="446.46" x2="731.6" y2="446.46" stroke="#222" stroke-width="1.2"/>
<line x1="427.4" y1="434.74" x2="429.0" y2="434.74" stroke="#222" stroke-width="1.2"/><line x1="733.2" y1="434.74" x2="731.6" y2="434.74" stroke="#222" stroke-width="1.2"/>
<line x1="427.4" y1="428.88" x2="429.0" y2="428.88" stroke="#222" stroke-width="1.2"/><line x1="733.2" y1="428.88" x2="731.6" y2="428.88" stroke="#222" stroke-width="1.2"/>
<line x1="427.4" y1="423.02" x2="429.0" y2="423.02" stroke="#222" stroke-width="1.2"/><line x1="733.2" y1="423.02" x2="731.6" y2="423.02" stroke="#222" stroke-width="1.2"/>
<line x1="427.4" y1="417.16" x2="429.0" y2="417.16" stroke="#222" stroke-width="1.2"/><line x1="733.2" y1="417.16" x2="731.6" y2="417.16" stroke="#222" stroke-width="1.2"/>
<line x1="427.4" y1="405.44" x2="429.0" y2="405.44" stroke="#222" stroke-width="1.2"/><line x1="733.2" y1="405.44" x2="731.6" y2="405.44" stroke="#222" stroke-width="1.2"/>
<line x1="427.4" y1="399.58" x2="429.0" y2="399.58" stroke="#222" stroke-width="1.2"/><line x1="733.2" y1="399.58" x2="731.6" y2="399.58" stroke="#222" stroke-width="1.2"/>
<line x1="427.4" y1="393.72" x2="429.0" y2="393.72" stroke="#222" stroke-width="1.2"/><line x1="733.2" y1="393.72" x2="731.6" y2="393.72" stroke="#222" stroke-width="1.2"/>
<line x1="427.4" y1="387.86" x2="429.0" y2="387.86" stroke="#222" stroke-width="1.2"/><line x1="733.2" y1="387.86" x2="731.6" y2="387.86" stroke="#222" stroke-width="1.2"/>
<line x1="427.4" y1="376.14" x2="429.0" y2="376.14" stroke="#222" stroke-width="1.2"/><line x1="733.2" y1="376.14" x2="731.6" y2="376.14" stroke="#222" stroke-width="1.2"/>
<line x1="427.4" y1="370.28" x2="429.0" y2="370.28" stroke="#222" stroke-width="1.2"/><line x1="733.2" y1="370.28" x2="731.6" y2="370.28" stroke="#222" stroke-width="1.2"/>
<line x1="427.4" y1="364.42" x2="429.0" y2="364.42" stroke="#222" stroke-width="1.2"/><line x1="733.2" y1="364.42" x2="731.6" y2="364.42" stroke="#222" stroke-width="1.2"/>
<line x1="427.4" y1="358.56" x2="429.0" y2="358.56" stroke="#222" stroke-width="1.2"/><line x1="733.2" y1="358.56" x2="731.6" y2="358.56" stroke="#222" stroke-width="1.2"/>
<line x1="427.4" y1="346.84" x2="429.0" y2="346.84" stroke="#222" stroke-width="1.2"/><line x1="733.2" y1="346.84" x2="731.6" y2="346.84" stroke="#222" stroke-width="1.2"/>
<g clip-path="url(#c052)"><path d="M53.00,150.00 C53.19,151.27 53.77,158.72 54.15,157.60 C54.53,156.48 54.82,143.30 55.30,143.30 C55.77,143.30 56.43,157.38 57.00,157.60 C57.57,157.82 58.18,144.60 58.70,144.60 C59.23,144.60 59.67,158.08 60.15,157.60 C60.63,157.12 61.05,141.70 61.60,141.70 C62.15,141.70 62.83,155.78 63.45,157.60 C64.07,159.42 64.66,152.60 65.30,152.60 C65.94,152.60 66.63,157.93 67.30,157.60 C67.97,157.27 68.78,150.60 69.30,150.60 C69.82,150.60 70.07,158.15 70.45,157.60 C70.83,157.05 71.10,147.30 71.60,147.30 C72.10,147.30 72.83,158.48 73.45,157.60 C74.07,156.72 74.72,142.00 75.30,142.00 C75.88,142.00 76.40,157.38 76.95,157.60 C77.50,157.82 78.10,143.30 78.60,143.30 C79.10,143.30 79.50,157.98 79.95,157.60 C80.40,157.22 80.72,141.00 81.30,141.00 C81.88,141.00 82.70,160.07 83.40,157.60 C84.10,155.13 84.72,126.20 85.50,126.20 C86.28,126.20 87.20,154.32 88.05,157.60 C88.90,160.88 89.95,145.90 90.60,145.90 C91.25,145.90 91.50,164.08 91.95,157.60 C92.40,151.12 92.71,107.00 93.30,107.00 C93.89,107.00 94.77,155.37 95.50,157.60 C96.23,159.83 97.00,120.40 97.70,120.40 C98.40,120.40 99.03,153.12 99.70,157.60 C100.37,162.08 101.03,147.30 101.70,147.30 C102.37,147.30 103.03,160.48 103.70,157.60 C104.37,154.72 105.12,130.00 105.70,130.00 C106.28,130.00 106.67,154.05 107.15,157.60 C107.63,161.15 108.05,151.30 108.60,151.30 C109.15,151.30 109.83,158.60 110.45,157.60 C111.07,156.60 111.75,145.30 112.30,145.30 C112.85,145.30 113.27,157.45 113.75,157.60 C114.23,157.75 114.66,146.20 115.20,146.20 C115.74,146.20 116.40,158.63 117.00,157.60 C117.60,156.57 118.13,140.00 118.80,140.00 C119.47,140.00 120.27,157.27 121.00,157.60 C121.73,157.93 122.47,142.00 123.20,142.00 C123.93,142.00 124.67,160.93 125.40,157.60 C126.13,154.27 127.01,122.00 127.60,122.00 C128.19,122.00 128.50,152.77 128.95,157.60 C129.40,162.43 129.88,151.00 130.30,151.00 C130.72,151.00 131.07,160.55 131.45,157.60 C131.83,154.65 132.11,133.30 132.60,133.30 C133.09,133.30 133.80,168.92 134.40,157.60 C135.00,146.28 135.18,65.42 136.20,65.40 C137.22,65.38 139.28,142.40 140.50,157.50 C141.72,172.60 142.42,160.58 143.50,156.00 C144.58,151.42 146.12,129.73 147.00,130.00 C147.88,130.27 148.20,157.17 148.80,157.60 C149.40,158.03 150.05,132.60 150.60,132.60 C151.15,132.60 151.60,154.82 152.10,157.60 C152.60,160.38 153.07,149.30 153.60,149.30 C154.13,149.30 154.73,158.38 155.30,157.60 C155.87,156.82 156.52,144.60 157.00,144.60 C157.48,144.60 157.80,156.82 158.20,157.60 C158.60,158.38 158.83,149.90 159.40,149.30 C159.97,148.70 160.93,152.62 161.60,154.00 C162.27,155.38 162.80,159.38 163.40,157.60 C164.00,155.82 164.70,143.30 165.20,143.30 C165.70,143.30 166.00,157.77 166.40,157.60 C166.80,157.43 167.17,142.30 167.60,142.30 C168.03,142.30 168.50,156.10 168.95,157.60 C169.40,159.10 169.74,154.47 170.30,151.30 C170.86,148.13 171.58,137.55 172.30,138.60 C173.03,139.65 173.87,157.48 174.65,157.60 C175.43,157.72 176.42,139.30 177.00,139.30 C177.58,139.30 177.77,155.15 178.15,157.60 C178.53,160.05 178.75,154.00 179.30,154.00 C179.85,154.00 180.73,161.22 181.45,157.60 C182.17,153.98 182.91,132.30 183.60,132.30 C184.29,132.30 184.93,157.10 185.60,157.60 C186.27,158.10 187.05,135.30 187.60,135.30 C188.15,135.30 188.47,155.05 188.90,157.60 C189.33,160.15 189.76,150.60 190.20,150.60 C190.64,150.60 191.10,157.27 191.55,157.60 C192.00,157.93 191.89,153.00 192.90,152.60 C193.91,152.20 196.02,155.32 197.60,155.20 C199.18,155.08 201.36,151.50 202.40,151.90 C203.44,152.30 203.37,157.60 203.85,157.60 C204.33,157.60 204.83,151.90 205.30,151.90 C205.77,151.90 206.20,158.33 206.65,157.60 C207.10,156.87 207.20,147.50 208.00,147.50 C208.80,147.50 210.30,158.20 211.45,157.60 C212.60,157.00 213.81,144.40 214.90,143.90 C215.99,143.40 217.20,153.70 218.00,154.60 C218.80,155.50 219.10,150.92 219.70,149.30 C220.30,147.68 221.08,143.52 221.60,144.90 C222.12,146.28 222.40,156.22 222.80,157.60 C223.20,158.98 223.53,153.20 224.00,153.20 C224.47,153.20 225.10,159.03 225.65,157.60 C226.20,156.17 226.69,148.15 227.30,144.60 C227.91,141.05 228.61,134.13 229.30,136.30 C229.99,138.47 230.73,155.77 231.45,157.60 C232.17,159.43 232.74,147.70 233.60,147.30 C234.46,146.90 235.65,156.13 236.60,155.20 C237.55,154.27 238.52,141.30 239.30,141.70 C240.08,142.10 240.63,157.60 241.30,157.60 C241.97,157.60 242.77,141.70 243.30,141.70 C243.83,141.70 244.10,157.23 244.50,157.60 C244.90,157.97 245.17,143.90 245.70,143.90 C246.23,143.90 247.03,159.88 247.70,157.60 C248.37,155.32 248.77,130.70 249.70,130.20 C250.63,129.70 252.25,150.63 253.30,154.60 C254.35,158.57 255.31,153.50 256.00,154.00 C256.69,154.50 256.97,162.38 257.45,157.60 C257.93,152.82 258.35,125.30 258.90,125.30 C259.45,125.30 260.13,154.17 260.75,157.60 C261.37,161.03 262.08,145.90 262.60,145.90 C263.12,145.90 263.47,156.67 263.90,157.60 C264.33,158.53 264.52,151.50 265.20,151.50 C265.88,151.50 267.07,161.63 268.00,157.60 C268.93,153.57 270.07,127.30 270.80,127.30 C271.53,127.30 271.83,154.17 272.35,157.60 C272.87,161.03 273.34,147.90 273.90,147.90 C274.46,147.90 275.10,159.37 275.70,157.60 C276.30,155.83 276.66,137.30 277.50,137.30 C278.34,137.30 279.67,157.00 280.75,157.60 C281.83,158.20 283.12,140.90 284.00,140.90 C284.88,140.90 285.33,156.67 286.00,157.60 C286.67,158.53 287.33,146.50 288.00,146.50 C288.67,146.50 289.33,157.00 290.00,157.60 C290.67,158.20 291.39,150.10 292.00,150.10 C292.61,150.10 293.10,157.87 293.65,157.60 C294.20,157.33 294.69,148.50 295.30,148.50 C295.91,148.50 296.63,157.72 297.30,157.60 C297.97,157.48 298.63,147.80 299.30,147.80 C299.97,147.80 300.63,159.65 301.30,157.60 C301.97,155.55 302.47,135.50 303.30,135.50 C304.13,135.50 305.30,157.32 306.30,157.60 C307.30,157.88 308.58,137.20 309.30,137.20 C310.02,137.20 310.20,156.48 310.65,157.60 C311.10,158.72 311.50,143.90 312.00,143.90 C312.50,143.90 313.10,156.72 313.65,157.60 C314.20,158.48 314.83,149.20 315.30,149.20 C315.77,149.20 316.07,158.27 316.45,157.60 C316.83,156.93 317.06,145.20 317.60,145.20 C318.14,145.20 319.00,156.83 319.70,157.60 C320.40,158.37 321.19,149.80 321.80,149.80 C322.41,149.80 322.83,157.03 323.35,157.60 C323.87,158.17 324.42,153.20 324.90,153.20 C325.38,153.20 325.77,157.50 326.20,157.60 C326.63,157.70 327.09,153.80 327.50,153.80 C327.91,153.80 328.27,162.03 328.65,157.60 C329.03,153.17 329.41,127.20 329.80,127.20 C330.19,127.20 330.60,154.05 331.00,157.60 C331.40,161.15 331.62,148.50 332.20,148.50 C332.78,148.50 333.73,159.03 334.50,157.60 C335.27,156.17 336.13,139.90 336.80,139.90 C337.47,139.90 337.93,159.38 338.50,157.60 C339.07,155.82 339.37,129.20 340.20,129.20 C341.03,129.20 342.40,153.38 343.50,157.60 C344.60,161.82 346.03,154.50 346.80,154.50 C347.57,154.50 347.70,161.43 348.15,157.60 C348.60,153.77 349.06,131.50 349.50,131.50 C349.94,131.50 350.37,156.32 350.80,157.60 C351.23,158.88 351.68,139.20 352.10,139.20 C352.52,139.20 352.90,156.05 353.30,157.60 C353.70,159.15 353.98,151.45 354.50,148.50 C355.02,145.55 355.90,140.48 356.40,139.90 C356.90,139.32 357.32,144.15 357.50,145.00" fill="none" stroke="#0000ff" stroke-width="1.15" stroke-linejoin="round"/></g>
<g clip-path="url(#c152)"><path d="M52.50,311.00 C52.88,311.57 53.85,313.03 54.80,314.40 C55.75,315.77 57.07,320.07 58.20,319.20 C59.33,318.33 60.68,310.47 61.60,309.20 C62.52,307.93 63.12,311.15 63.70,311.60 C64.28,312.05 64.47,310.75 65.10,311.90 C65.73,313.05 66.42,320.67 67.50,318.50 C68.58,316.33 70.30,298.90 71.60,298.90 C72.90,298.90 74.22,315.58 75.30,318.50 C76.38,321.42 77.30,316.58 78.10,316.40 C78.90,316.22 79.42,317.33 80.10,317.40 C80.78,317.47 81.52,316.50 82.20,316.80 C82.88,317.10 83.28,321.25 84.20,319.20 C85.12,317.15 86.55,304.50 87.70,304.50 C88.85,304.50 90.12,317.15 91.10,319.20 C92.08,321.25 92.80,316.80 93.60,316.80 C94.40,316.80 94.95,318.80 95.90,319.20 C96.85,319.60 98.32,320.12 99.30,319.20 C100.28,318.28 101.05,316.67 101.80,313.70 C102.55,310.73 102.97,300.48 103.80,301.40 C104.63,302.32 105.72,316.53 106.80,319.20 C107.88,321.87 109.27,317.52 110.30,317.40 C111.33,317.28 111.98,323.80 113.00,318.50 C114.02,313.20 115.37,286.52 116.40,285.60 C117.43,284.68 118.17,307.75 119.20,313.00 C120.23,318.25 121.47,318.93 122.60,317.10 C123.73,315.27 124.95,301.72 126.00,302.00 C127.05,302.28 127.93,318.32 128.90,318.80 C129.87,319.28 130.67,304.83 131.80,304.90 C132.93,304.97 134.18,319.95 135.70,319.20 C137.22,318.45 139.52,300.53 140.90,300.40 C142.28,300.27 142.93,319.13 144.00,318.40 C145.07,317.67 146.10,295.93 147.30,296.00 C148.50,296.07 149.92,316.30 151.20,318.80 C152.48,321.30 154.03,312.62 155.00,311.00 C155.97,309.38 156.18,309.80 157.00,309.10 C157.82,308.40 159.10,305.67 159.90,306.80 C160.70,307.93 160.83,314.70 161.80,315.90 C162.77,317.10 164.30,328.85 165.70,314.00 C167.10,299.15 168.92,226.00 170.20,226.80 C171.48,227.60 172.47,304.60 173.40,318.80 C174.33,333.00 175.08,312.00 175.80,312.00 C176.52,312.00 176.90,319.77 177.70,318.80 C178.50,317.83 179.70,306.20 180.60,306.20 C181.50,306.20 182.25,320.73 183.10,318.80 C183.95,316.87 184.88,294.92 185.70,294.60 C186.52,294.28 187.20,315.38 188.00,316.90 C188.80,318.42 189.53,303.53 190.50,303.70 C191.47,303.87 192.77,315.87 193.80,317.90 C194.83,319.93 195.57,323.17 196.70,315.90 C197.83,308.63 199.40,273.95 200.60,274.30 C201.80,274.65 202.97,311.03 203.90,318.00 C204.83,324.97 205.55,316.23 206.20,316.10 C206.85,315.97 207.07,317.72 207.80,317.20 C208.53,316.68 209.68,312.87 210.60,313.00 C211.52,313.13 212.42,317.82 213.30,318.00 C214.18,318.18 215.00,313.85 215.90,314.10 C216.80,314.35 217.45,318.85 218.70,319.50 C219.95,320.15 222.23,318.00 223.40,318.00 C224.57,318.00 224.78,320.67 225.70,319.50 C226.62,318.33 227.85,311.12 228.90,311.00 C229.95,310.88 230.70,318.62 232.00,318.80 C233.30,318.98 235.33,312.10 236.70,312.10 C238.07,312.10 239.03,319.38 240.20,318.80 C241.37,318.22 242.47,308.60 243.70,308.60 C244.93,308.60 245.92,317.50 247.60,318.80 C249.28,320.10 252.25,316.40 253.80,316.40 C255.35,316.40 255.73,321.65 256.90,318.80 C258.07,315.95 259.62,299.23 260.80,299.30 C261.98,299.37 262.70,315.95 264.00,319.20 C265.30,322.45 266.92,319.78 268.60,318.80 C270.28,317.82 272.73,313.30 274.10,313.30 C275.47,313.30 275.73,318.53 276.80,318.80 C277.87,319.07 279.55,314.90 280.50,314.90 C281.45,314.90 281.73,319.27 282.50,318.80 C283.27,318.33 284.40,313.40 285.10,312.10 C285.80,310.80 285.83,317.87 286.70,311.00 C287.57,304.13 289.18,269.73 290.30,270.90 C291.42,272.07 292.43,311.72 293.40,318.00 C294.37,324.28 295.13,310.98 296.10,308.60 C297.07,306.22 298.25,302.27 299.20,303.70 C300.15,305.13 300.77,321.12 301.80,317.20 C302.83,313.28 303.88,279.93 305.40,280.20 C306.92,280.47 309.27,316.78 310.90,318.80 C312.53,320.82 314.03,293.08 315.20,292.30 C316.37,291.52 317.00,313.58 317.90,314.10 C318.80,314.62 319.57,294.62 320.60,295.40 C321.63,296.18 322.98,315.03 324.10,318.80 C325.22,322.57 326.33,318.92 327.30,318.00 C328.27,317.08 329.12,313.17 329.90,313.30 C330.68,313.43 331.02,320.62 332.00,318.80 C332.98,316.98 334.38,302.80 335.80,302.40 C337.22,302.00 339.02,317.70 340.50,316.40 C341.98,315.10 343.60,294.33 344.70,294.60 C345.80,294.87 346.23,316.32 347.10,318.00 C347.97,319.68 348.92,304.70 349.90,304.70 C350.88,304.70 352.10,316.05 353.00,318.00 C353.90,319.95 354.65,316.27 355.30,316.40 C355.95,316.53 356.53,318.53 356.90,318.80 C357.27,319.07 357.40,318.13 357.50,318.00" fill="none" stroke="#0000ff" stroke-width="1.15" stroke-linejoin="round"/></g>
<g clip-path="url(#c252)"><path d="M53.50,468.00 C53.68,468.65 54.28,470.35 54.60,471.90 C54.92,473.45 54.93,480.57 55.40,477.30 C55.87,474.03 56.82,452.30 57.40,452.30 C57.98,452.30 58.35,475.85 58.90,477.30 C59.45,478.75 60.22,462.72 60.70,461.00 C61.18,459.28 61.37,466.08 61.80,467.00 C62.23,467.92 62.73,464.33 63.30,466.50 C63.87,468.67 64.67,479.18 65.20,480.00 C65.73,480.82 65.98,472.03 66.50,471.40 C67.02,470.77 67.70,477.88 68.30,476.20 C68.90,474.52 69.52,461.12 70.10,461.30 C70.68,461.48 71.25,476.53 71.80,477.30 C72.35,478.07 72.90,466.53 73.40,465.90 C73.90,465.27 74.30,475.80 74.80,473.50 C75.30,471.20 75.78,451.10 76.40,452.10 C77.02,453.10 77.97,476.28 78.50,479.50 C79.03,482.72 79.18,471.58 79.60,471.40 C80.02,471.22 80.43,479.05 81.00,478.40 C81.57,477.75 82.08,467.13 83.00,467.50 C83.92,467.87 85.75,478.60 86.50,480.60 C87.25,482.60 86.92,483.18 87.50,479.50 C88.08,475.82 89.22,458.87 90.00,458.50 C90.78,458.13 91.62,474.52 92.20,477.30 C92.78,480.08 93.10,475.10 93.50,475.20 C93.90,475.30 94.08,478.90 94.60,477.90 C95.12,476.90 95.97,471.57 96.60,469.20 C97.23,466.83 97.73,462.53 98.40,463.70 C99.07,464.87 99.87,476.55 100.60,476.20 C101.33,475.85 102.25,464.22 102.80,461.60 C103.35,458.98 103.45,462.87 103.90,460.50 C104.35,458.13 104.87,445.05 105.50,447.40 C106.13,449.75 106.98,471.15 107.70,474.60 C108.42,478.05 109.08,473.00 109.80,468.10 C110.52,463.20 111.18,443.75 112.00,445.20 C112.82,446.65 113.75,475.25 114.70,476.80 C115.65,478.35 116.88,456.50 117.70,454.50 C118.52,452.50 119.10,463.27 119.60,464.80 C120.10,466.33 120.30,463.42 120.70,463.70 C121.10,463.98 121.42,469.85 122.00,466.50 C122.58,463.15 123.47,441.85 124.20,443.60 C124.93,445.35 125.72,471.28 126.40,477.00 C127.08,482.72 127.67,480.83 128.30,477.90 C128.93,474.97 129.57,460.58 130.20,459.40 C130.83,458.22 131.52,470.95 132.10,470.80 C132.68,470.65 133.10,457.50 133.70,458.50 C134.30,459.50 135.15,475.38 135.70,476.80 C136.25,478.22 136.52,467.10 137.00,467.00 C137.48,466.90 138.10,475.47 138.60,476.20 C139.10,476.93 139.52,470.67 140.00,471.40 C140.48,472.13 140.92,484.68 141.50,480.60 C142.08,476.52 142.80,449.17 143.50,446.90 C144.20,444.63 145.07,463.83 145.70,467.00 C146.33,470.17 146.72,464.27 147.30,465.90 C147.88,467.53 148.23,478.40 149.20,476.80 C150.17,475.20 152.05,456.40 153.10,456.30 C154.15,456.20 154.83,473.68 155.50,476.20 C156.17,478.72 156.47,472.48 157.10,471.40 C157.73,470.32 158.48,468.35 159.30,469.70 C160.12,471.05 161.10,478.42 162.00,479.50 C162.90,480.58 163.65,479.70 164.70,476.20 C165.75,472.70 167.33,458.03 168.30,458.50 C169.27,458.97 169.88,477.58 170.50,479.00 C171.12,480.42 171.52,467.82 172.00,467.00 C172.48,466.18 172.83,475.00 173.40,474.10 C173.97,473.20 174.77,461.15 175.40,461.60 C176.03,462.05 176.62,476.08 177.20,476.80 C177.78,477.52 178.35,467.08 178.90,465.90 C179.45,464.72 180.02,470.60 180.50,469.70 C180.98,468.80 181.25,459.77 181.80,460.50 C182.35,461.23 183.15,474.57 183.80,474.10 C184.45,473.63 185.02,461.75 185.70,457.70 C186.38,453.65 187.17,446.35 187.90,449.80 C188.63,453.25 189.43,476.17 190.10,478.40 C190.77,480.63 191.37,464.92 191.90,463.20 C192.43,461.48 192.80,468.37 193.30,468.10 C193.80,467.83 194.32,460.15 194.90,461.60 C195.48,463.05 196.12,474.45 196.80,476.80 C197.48,479.15 198.30,481.32 199.00,475.70 C199.70,470.08 200.33,442.38 201.00,443.10 C201.67,443.82 202.40,474.30 203.00,480.00 C203.60,485.70 203.95,492.58 204.60,477.30 C205.25,462.02 206.07,387.80 206.90,388.30 C207.73,388.80 208.72,464.97 209.60,480.30 C210.48,495.63 211.35,483.33 212.20,480.30 C213.05,477.27 213.92,462.42 214.70,462.10 C215.48,461.78 216.35,475.77 216.90,478.40 C217.45,481.03 217.40,482.15 218.00,477.90 C218.60,473.65 219.68,452.90 220.50,452.90 C221.32,452.90 222.18,473.38 222.90,477.90 C223.62,482.42 224.05,483.08 224.80,480.00 C225.55,476.92 226.67,460.03 227.40,459.40 C228.13,458.77 228.57,477.87 229.20,476.20 C229.83,474.53 230.63,451.75 231.20,449.40 C231.77,447.05 232.05,461.92 232.60,462.10 C233.15,462.28 233.80,450.42 234.50,450.50 C235.20,450.58 236.02,457.85 236.80,462.60 C237.58,467.35 238.22,479.72 239.20,479.00 C240.18,478.28 241.70,459.12 242.70,458.30 C243.70,457.48 244.33,475.28 245.20,474.10 C246.07,472.92 246.73,450.48 247.90,451.20 C249.07,451.92 251.02,478.70 252.20,478.40 C253.38,478.10 254.12,453.12 255.00,449.40 C255.88,445.68 256.70,451.45 257.50,456.10 C258.30,460.75 259.05,476.03 259.80,477.30 C260.55,478.57 261.23,466.78 262.00,463.70 C262.77,460.62 263.58,457.38 264.40,458.80 C265.22,460.22 266.12,470.65 266.90,472.20 C267.68,473.75 268.43,471.05 269.10,468.10 C269.77,465.15 270.30,453.60 270.90,454.50 C271.50,455.40 272.03,473.42 272.70,473.50 C273.37,473.58 274.28,455.53 274.90,455.00 C275.52,454.47 275.85,471.03 276.40,470.30 C276.95,469.57 277.57,449.32 278.20,450.60 C278.83,451.88 279.62,474.53 280.20,478.00 C280.78,481.47 281.03,471.12 281.70,471.40 C282.37,471.68 283.30,478.70 284.20,479.70 C285.10,480.70 286.17,480.05 287.10,477.40 C288.03,474.75 288.93,464.00 289.80,463.80 C290.67,463.60 291.53,476.05 292.30,476.20 C293.07,476.35 293.67,467.23 294.40,464.70 C295.13,462.17 295.88,459.47 296.70,461.00 C297.52,462.53 298.38,470.68 299.30,473.90 C300.22,477.12 301.28,481.42 302.20,480.30 C303.12,479.18 304.10,469.22 304.80,467.20 C305.50,465.18 305.78,466.02 306.40,468.20 C307.02,470.38 307.72,481.08 308.50,480.30 C309.28,479.52 310.10,463.50 311.10,463.50 C312.10,463.50 313.20,481.98 314.50,480.30 C315.80,478.62 317.68,455.03 318.90,453.40 C320.12,451.77 321.07,467.08 321.80,470.50 C322.53,473.92 322.62,476.65 323.30,473.90 C323.98,471.15 325.08,454.00 325.90,454.00 C326.72,454.00 327.33,472.15 328.20,473.90 C329.07,475.65 330.13,465.68 331.10,464.50 C332.07,463.32 333.13,464.65 334.00,466.80 C334.87,468.95 335.53,479.48 336.30,477.40 C337.07,475.32 337.80,455.37 338.60,454.30 C339.40,453.23 340.13,469.12 341.10,471.00 C342.07,472.88 343.47,465.02 344.40,465.60 C345.33,466.18 345.83,471.95 346.70,474.50 C347.57,477.05 348.63,481.95 349.60,480.90 C350.57,479.85 351.68,469.65 352.50,468.20 C353.32,466.75 353.97,471.92 354.50,472.20 C355.03,472.48 355.27,469.70 355.70,469.90 C356.13,470.10 356.87,472.82 357.10,473.40" fill="none" stroke="#0000ff" stroke-width="1.15" stroke-linejoin="round"/></g>
<line x1="93.0" y1="26.4" x2="93.0" y2="64.0" stroke="#00e600" stroke-width="3.0" stroke-dasharray="7.5 7.4" stroke-dashoffset="0"/>
<line x1="133.2" y1="19.3" x2="133.2" y2="64.0" stroke="#00e600" stroke-width="2.6" stroke-dasharray="7 5.3 1 5" stroke-dashoffset="4.7"/>
<rect x="133.5" y="23.50" width="5.5" height="1.5" fill="#333"/>
<rect x="133.5" y="29.20" width="5.5" height="1.5" fill="#666"/>
<rect x="133.5" y="34.60" width="5.5" height="1.5" fill="#333"/>
<rect x="133.5" y="40.40" width="5.5" height="1.5" fill="#666"/>
<rect x="133.5" y="46.10" width="5.5" height="1.5" fill="#333"/>
<rect x="133.5" y="51.50" width="5.5" height="1.5" fill="#666"/>
<rect x="133.5" y="57.20" width="5.5" height="1.5" fill="#333"/>
<rect x="133.5" y="62.60" width="5.5" height="1.5" fill="#666"/>
<line x1="343.4" y1="19.3" x2="343.4" y2="64.0" stroke="#ff0000" stroke-width="3.0" stroke-dasharray="7 5.1 1 5.2" stroke-dashoffset="4.6"/>
<rect x="167.0" y="184.70" width="6.099999999999994" height="1.5" fill="#333"/>
<rect x="167.0" y="190.40" width="6.099999999999994" height="1.5" fill="#666"/>
<rect x="167.0" y="195.70" width="6.099999999999994" height="1.5" fill="#333"/>
<rect x="167.0" y="201.70" width="6.099999999999994" height="1.5" fill="#666"/>
<rect x="167.0" y="207.40" width="6.099999999999994" height="1.5" fill="#333"/>
<rect x="167.0" y="212.70" width="6.099999999999994" height="1.5" fill="#666"/>
<rect x="167.0" y="218.40" width="6.099999999999994" height="1.5" fill="#333"/>
<rect x="167.0" y="223.90" width="6.099999999999994" height="1.5" fill="#666"/>
<line x1="341.6" y1="180.3" x2="341.6" y2="225.0" stroke="#ff0000" stroke-width="2.8" stroke-dasharray="7.1 5.2 1 4.6" stroke-dashoffset="3.8"/>
<line x1="115.3" y1="342.1" x2="115.3" y2="386.5" stroke="#ff0000" stroke-width="2.8" stroke-dasharray="7.4 5.2 1 4.4" stroke-dashoffset="5.0"/>
<rect x="204.5" y="345.70" width="5.699999999999989" height="1.5" fill="#333"/>
<rect x="204.5" y="351.60" width="5.699999999999989" height="1.5" fill="#666"/>
<rect x="204.5" y="357.10" width="5.699999999999989" height="1.5" fill="#333"/>
<rect x="204.5" y="362.70" width="5.699999999999989" height="1.5" fill="#666"/>
<rect x="204.5" y="368.20" width="5.699999999999989" height="1.5" fill="#333"/>
<rect x="204.5" y="373.80" width="5.699999999999989" height="1.5" fill="#666"/>
<rect x="204.5" y="379.30" width="5.699999999999989" height="1.5" fill="#333"/>
<rect x="204.5" y="385.00" width="5.699999999999989" height="1.5" fill="#666"/>
<g clip-path="url(#c0427)">
<g stroke="#3030ff" stroke-width="1.3">
<line x1="428.3" y1="57.7" x2="428.3" y2="83.0"/>
<line x1="430.2" y1="53.7" x2="430.2" y2="86.8"/>
<line x1="429.1" y1="71.4" x2="429.1" y2="105.3"/>
<line x1="429.7" y1="98.6" x2="429.7" y2="127.0"/>
<line x1="431.8" y1="113.0" x2="431.8" y2="136.3"/>
<line x1="433.6" y1="101.8" x2="433.6" y2="133.2"/>
<line x1="435.5" y1="69.4" x2="435.5" y2="97.1"/>
<line x1="437.1" y1="79.3" x2="437.1" y2="110.6"/>
<line x1="437.6" y1="94.4" x2="437.6" y2="123.3"/>
<line x1="439.0" y1="86.3" x2="439.0" y2="114.5"/>
<line x1="436.3" y1="100.0" x2="436.3" y2="136.9"/>
<line x1="440.8" y1="53.3" x2="440.8" y2="88.1"/>
<line x1="441.6" y1="63.8" x2="441.6" y2="93.1"/>
<line x1="442.4" y1="53.0" x2="442.4" y2="84.7"/>
<line x1="442.4" y1="107.6" x2="442.4" y2="134.9"/>
<line x1="444.3" y1="39.4" x2="444.3" y2="72.0"/>
<line x1="446.9" y1="34.9" x2="446.9" y2="66.3"/>
<line x1="446.1" y1="37.0" x2="446.1" y2="75.4"/>
<line x1="448.3" y1="52.4" x2="448.3" y2="91.3"/>
<line x1="448.8" y1="58.4" x2="448.8" y2="94.7"/>
<line x1="450.4" y1="65.2" x2="450.4" y2="104.4"/>
<line x1="450.4" y1="54.8" x2="450.4" y2="87.5"/>
<line x1="451.5" y1="75.8" x2="451.5" y2="105.0"/>
<line x1="452.2" y1="59.0" x2="452.2" y2="91.3"/>
<line x1="453.6" y1="83.9" x2="453.6" y2="117.2"/>
<line x1="454.9" y1="85.5" x2="454.9" y2="122.2"/>
<line x1="455.7" y1="76.2" x2="455.7" y2="101.7"/>
<line x1="456.8" y1="79.3" x2="456.8" y2="114.7"/>
<line x1="457.6" y1="86.2" x2="457.6" y2="121.8"/>
<line x1="460.2" y1="37.1" x2="460.2" y2="65.6"/>
<line x1="461.0" y1="76.5" x2="461.0" y2="106.4"/>
<line x1="462.1" y1="90.7" x2="462.1" y2="126.5"/>
<line x1="464.2" y1="76.2" x2="464.2" y2="111.0"/>
<line x1="465.5" y1="79.0" x2="465.5" y2="121.3"/>
<line x1="466.3" y1="65.7" x2="466.3" y2="98.9"/>
<line x1="468.2" y1="84.4" x2="468.2" y2="124.3"/>
<line x1="469.5" y1="81.5" x2="469.5" y2="118.2"/>
<line x1="470.1" y1="97.3" x2="470.1" y2="131.8"/>
<line x1="471.7" y1="52.0" x2="471.7" y2="80.0"/>
<line x1="473.5" y1="51.0" x2="473.5" y2="78.6"/>
<line x1="474.3" y1="57.2" x2="474.3" y2="93.7"/>
<line x1="474.8" y1="53.5" x2="474.8" y2="83.9"/>
<line x1="476.2" y1="71.9" x2="476.2" y2="107.2"/>
<line x1="477.0" y1="75.8" x2="477.0" y2="105.9"/>
<line x1="478.0" y1="33.9" x2="478.0" y2="65.7"/>
<line x1="477.5" y1="68.0" x2="477.5" y2="93.1"/>
<line x1="479.6" y1="54.9" x2="479.6" y2="89.6"/>
<line x1="482.3" y1="43.8" x2="482.3" y2="71.3"/>
<line x1="482.8" y1="86.7" x2="482.8" y2="115.4"/>
<line x1="483.3" y1="52.9" x2="483.3" y2="77.1"/>
<line x1="484.9" y1="99.8" x2="484.9" y2="134.1"/>
<line x1="486.8" y1="50.0" x2="486.8" y2="84.0"/>
<line x1="489.5" y1="56.1" x2="489.5" y2="90.3"/>
<line x1="490.8" y1="66.5" x2="490.8" y2="99.2"/>
<line x1="492.9" y1="40.1" x2="492.9" y2="76.0"/>
<line x1="494.0" y1="91.8" x2="494.0" y2="116.0"/>
<line x1="495.6" y1="70.5" x2="495.6" y2="101.0"/>
<line x1="496.6" y1="76.7" x2="496.6" y2="114.0"/>
<line x1="497.4" y1="39.2" x2="497.4" y2="69.3"/>
<line x1="498.2" y1="82.4" x2="498.2" y2="119.9"/>
<line x1="498.8" y1="93.7" x2="498.8" y2="124.2"/>
<line x1="500.1" y1="57.9" x2="500.1" y2="82.0"/>
<line x1="502.0" y1="53.7" x2="502.0" y2="94.9"/>
<line x1="504.1" y1="64.5" x2="504.1" y2="94.4"/>
<line x1="505.4" y1="68.8" x2="505.4" y2="103.6"/>
<line x1="501.3" y1="58.2" x2="501.3" y2="82.4"/>
<line x1="500.5" y1="85.0" x2="500.5" y2="122.3"/>
<line x1="504.0" y1="55.0" x2="504.0" y2="80.6"/>
<line x1="504.8" y1="76.4" x2="504.8" y2="100.9"/>
<line x1="506.6" y1="68.6" x2="506.6" y2="98.6"/>
<line x1="510.1" y1="38.2" x2="510.1" y2="67.5"/>
<line x1="510.1" y1="74.9" x2="510.1" y2="105.3"/>
<line x1="511.2" y1="80.7" x2="511.2" y2="112.6"/>
<line x1="512.0" y1="87.8" x2="512.0" y2="112.2"/>
<line x1="512.8" y1="70.0" x2="512.8" y2="105.8"/>
<line x1="514.6" y1="60.9" x2="514.6" y2="98.9"/>
<line x1="515.9" y1="81.6" x2="515.9" y2="121.6"/>
<line x1="517.3" y1="42.5" x2="517.3" y2="73.7"/>
<line x1="518.6" y1="75.2" x2="518.6" y2="113.0"/>
<line x1="519.1" y1="93.8" x2="519.1" y2="134.0"/>
<line x1="521.3" y1="77.1" x2="521.3" y2="103.7"/>
<line x1="523.4" y1="32.5" x2="523.4" y2="57.6"/>
<line x1="523.9" y1="58.8" x2="523.9" y2="84.0"/>
<line x1="525.2" y1="71.4" x2="525.2" y2="107.7"/>
<line x1="527.1" y1="86.0" x2="527.1" y2="116.1"/>
<line x1="527.9" y1="46.0" x2="527.9" y2="72.3"/>
<line x1="528.7" y1="47.3" x2="528.7" y2="85.1"/>
<line x1="530.6" y1="65.3" x2="530.6" y2="98.3"/>
<line x1="531.4" y1="84.3" x2="531.4" y2="124.2"/>
<line x1="532.4" y1="35.0" x2="532.4" y2="64.5"/>
<line x1="533.2" y1="41.4" x2="533.2" y2="69.5"/>
<line x1="534.0" y1="64.9" x2="534.0" y2="89.1"/>
<line x1="535.1" y1="68.6" x2="535.1" y2="105.6"/>
<line x1="536.7" y1="81.4" x2="536.7" y2="108.5"/>
<line x1="538.5" y1="100.3" x2="538.5" y2="137.5"/>
<line x1="539.3" y1="69.1" x2="539.3" y2="97.3"/>
<line x1="541.2" y1="49.3" x2="541.2" y2="89.3"/>
<line x1="542.5" y1="80.9" x2="542.5" y2="106.9"/>
<line x1="543.9" y1="88.9" x2="543.9" y2="119.6"/>
<line x1="545.2" y1="59.6" x2="545.2" y2="92.3"/>
<line x1="547.3" y1="33.8" x2="547.3" y2="72.4"/>
<line x1="547.8" y1="63.6" x2="547.8" y2="100.5"/>
<line x1="549.2" y1="46.4" x2="549.2" y2="75.5"/>
<line x1="551.8" y1="82.0" x2="551.8" y2="113.4"/>
<line x1="553.2" y1="69.1" x2="553.2" y2="102.5"/>
<line x1="554.5" y1="56.4" x2="554.5" y2="90.1"/>
<line x1="555.8" y1="63.6" x2="555.8" y2="101.1"/>
<line x1="557.1" y1="48.8" x2="557.1" y2="81.8"/>
<line x1="559.0" y1="87.9" x2="559.0" y2="121.7"/>
<line x1="560.6" y1="79.5" x2="560.6" y2="119.8"/>
<line x1="562.5" y1="40.3" x2="562.5" y2="68.5"/>
<line x1="563.3" y1="107.8" x2="563.3" y2="135.8"/>
<line x1="563.8" y1="86.6" x2="563.8" y2="116.8"/>
<line x1="565.1" y1="56.3" x2="565.1" y2="86.7"/>
<line x1="567.8" y1="39.9" x2="567.8" y2="64.8"/>
<line x1="568.6" y1="57.9" x2="568.6" y2="88.6"/>
<line x1="570.4" y1="68.3" x2="570.4" y2="98.9"/>
<line x1="571.2" y1="27.7" x2="571.2" y2="54.8"/>
<line x1="572.3" y1="34.8" x2="572.3" y2="62.9"/>
<line x1="573.9" y1="71.0" x2="573.9" y2="105.5"/>
<line x1="575.0" y1="54.4" x2="575.0" y2="84.0"/>
<line x1="575.7" y1="78.9" x2="575.7" y2="120.9"/>
<line x1="577.6" y1="60.8" x2="577.6" y2="89.8"/>
<line x1="578.4" y1="91.8" x2="578.4" y2="128.3"/>
<line x1="579.2" y1="72.4" x2="579.2" y2="101.0"/>
<line x1="575.5" y1="35.0" x2="575.5" y2="72.6"/>
<line x1="576.3" y1="59.8" x2="576.3" y2="88.8"/>
<line x1="578.2" y1="65.4" x2="578.2" y2="95.5"/>
<line x1="579.0" y1="83.1" x2="579.0" y2="111.5"/>
<line x1="580.3" y1="96.4" x2="580.3" y2="124.4"/>
<line x1="582.4" y1="70.1" x2="582.4" y2="104.9"/>
<line x1="584.3" y1="79.2" x2="584.3" y2="108.9"/>
<line x1="586.2" y1="59.2" x2="586.2" y2="85.7"/>
<line x1="587.0" y1="68.6" x2="587.0" y2="101.6"/>
<line x1="588.3" y1="77.5" x2="588.3" y2="109.4"/>
<line x1="589.6" y1="82.7" x2="589.6" y2="113.8"/>
<line x1="591.0" y1="61.1" x2="591.0" y2="96.1"/>
<line x1="593.1" y1="57.0" x2="593.1" y2="82.2"/>
<line x1="594.1" y1="89.5" x2="594.1" y2="119.1"/>
<line x1="595.7" y1="71.7" x2="595.7" y2="94.9"/>
<line x1="597.6" y1="55.0" x2="597.6" y2="91.9"/>
<line x1="598.9" y1="80.1" x2="598.9" y2="116.4"/>
<line x1="600.2" y1="106.6" x2="600.2" y2="133.8"/>
<line x1="602.1" y1="74.0" x2="602.1" y2="111.7"/>
<line x1="603.7" y1="54.8" x2="603.7" y2="81.9"/>
<line x1="604.8" y1="70.6" x2="604.8" y2="101.9"/>
<line x1="606.4" y1="66.4" x2="606.4" y2="89.7"/>
<line x1="607.4" y1="79.7" x2="607.4" y2="108.3"/>
<line x1="609.0" y1="82.2" x2="609.0" y2="117.0"/>
<line x1="610.1" y1="81.7" x2="610.1" y2="107.5"/>
<line x1="610.9" y1="120.4" x2="610.9" y2="156.0"/>
<line x1="612.7" y1="74.0" x2="612.7" y2="106.4"/>
<line x1="614.3" y1="53.8" x2="614.3" y2="90.9"/>
<line x1="614.9" y1="69.4" x2="614.9" y2="94.5"/>
<line x1="616.2" y1="75.5" x2="616.2" y2="112.6"/>
<line x1="617.5" y1="88.9" x2="617.5" y2="124.6"/>
<line x1="619.7" y1="45.1" x2="619.7" y2="70.8"/>
<line x1="620.7" y1="64.3" x2="620.7" y2="96.5"/>
<line x1="622.3" y1="80.9" x2="622.3" y2="107.8"/>
<line x1="623.4" y1="78.3" x2="623.4" y2="112.9"/>
<line x1="625.5" y1="98.5" x2="625.5" y2="128.8"/>
<line x1="628.2" y1="83.2" x2="628.2" y2="122.1"/>
<line x1="629.5" y1="63.7" x2="629.5" y2="101.6"/>
<line x1="630.8" y1="88.0" x2="630.8" y2="113.4"/>
<line x1="632.1" y1="56.3" x2="632.1" y2="91.8"/>
<line x1="634.0" y1="70.3" x2="634.0" y2="100.0"/>
<line x1="635.6" y1="88.9" x2="635.6" y2="117.4"/>
<line x1="637.5" y1="62.9" x2="637.5" y2="97.2"/>
<line x1="639.3" y1="86.9" x2="639.3" y2="129.3"/>
<line x1="641.4" y1="49.3" x2="641.4" y2="86.2"/>
<line x1="642.8" y1="42.4" x2="642.8" y2="70.4"/>
<line x1="643.6" y1="70.8" x2="643.6" y2="96.4"/>
<line x1="645.4" y1="61.9" x2="645.4" y2="88.2"/>
<line x1="646.8" y1="116.2" x2="646.8" y2="143.2"/>
<line x1="648.1" y1="95.4" x2="648.1" y2="121.1"/>
<line x1="650.0" y1="72.9" x2="650.0" y2="98.3"/>
<line x1="651.5" y1="63.2" x2="651.5" y2="103.2"/>
<line x1="652.6" y1="98.9" x2="652.6" y2="124.4"/>
<line x1="654.2" y1="84.0" x2="654.2" y2="114.4"/>
<line x1="651.3" y1="61.9" x2="651.3" y2="101.5"/>
<line x1="652.1" y1="95.4" x2="652.1" y2="130.2"/>
<line x1="653.2" y1="81.4" x2="653.2" y2="114.5"/>
<line x1="655.3" y1="106.0" x2="655.3" y2="134.7"/>
<line x1="657.5" y1="71.5" x2="657.5" y2="108.0"/>
<line x1="658.0" y1="56.9" x2="658.0" y2="82.2"/>
<line x1="659.3" y1="84.1" x2="659.3" y2="114.9"/>
<line x1="660.7" y1="98.3" x2="660.7" y2="139.4"/>
<line x1="662.0" y1="86.5" x2="662.0" y2="123.4"/>
<line x1="663.3" y1="81.9" x2="663.3" y2="114.0"/>
<line x1="664.7" y1="93.9" x2="664.7" y2="123.9"/>
<line x1="666.5" y1="78.4" x2="666.5" y2="116.5"/>
<line x1="667.3" y1="109.8" x2="667.3" y2="138.3"/>
<line x1="669.2" y1="86.1" x2="669.2" y2="116.4"/>
<line x1="670.8" y1="71.2" x2="670.8" y2="102.0"/>
<line x1="672.6" y1="63.8" x2="672.6" y2="96.6"/>
<line x1="673.4" y1="49.1" x2="673.4" y2="81.6"/>
<line x1="674.5" y1="59.5" x2="674.5" y2="93.1"/>
<line x1="675.3" y1="84.4" x2="675.3" y2="109.7"/>
<line x1="676.6" y1="105.0" x2="676.6" y2="141.5"/>
<line x1="678.8" y1="59.0" x2="678.8" y2="86.6"/>
<line x1="679.8" y1="62.3" x2="679.8" y2="97.9"/>
<line x1="681.4" y1="72.2" x2="681.4" y2="104.5"/>
<line x1="682.5" y1="30.9" x2="682.5" y2="68.2"/>
<line x1="683.3" y1="89.0" x2="683.3" y2="119.4"/>
<line x1="684.1" y1="56.3" x2="684.1" y2="88.6"/>
<line x1="685.2" y1="68.2" x2="685.2" y2="93.1"/>
<line x1="686.8" y1="57.4" x2="686.8" y2="84.4"/>
<line x1="687.8" y1="71.0" x2="687.8" y2="96.6"/>
<line x1="690.0" y1="94.4" x2="690.0" y2="131.6"/>
<line x1="691.3" y1="63.3" x2="691.3" y2="87.6"/>
<line x1="692.6" y1="67.0" x2="692.6" y2="98.0"/>
<line x1="694.0" y1="62.3" x2="694.0" y2="89.8"/>
<line x1="695.8" y1="95.8" x2="695.8" y2="123.8"/>
<line x1="697.4" y1="71.1" x2="697.4" y2="106.0"/>
<line x1="698.5" y1="60.4" x2="698.5" y2="90.1"/>
<line x1="700.1" y1="37.8" x2="700.1" y2="63.9"/>
<line x1="702.0" y1="95.0" x2="702.0" y2="127.0"/>
<line x1="703.3" y1="85.2" x2="703.3" y2="113.9"/>
<line x1="705.4" y1="69.3" x2="705.4" y2="105.2"/>
<line x1="706.5" y1="91.4" x2="706.5" y2="123.0"/>
<line x1="708.1" y1="103.3" x2="708.1" y2="144.9"/>
<line x1="709.2" y1="80.1" x2="709.2" y2="118.2"/>
<line x1="711.8" y1="96.5" x2="711.8" y2="123.9"/>
<line x1="713.9" y1="98.7" x2="713.9" y2="139.1"/>
<line x1="715.3" y1="77.0" x2="715.3" y2="103.6"/>
<line x1="717.9" y1="80.1" x2="717.9" y2="116.0"/>
<line x1="719.3" y1="100.4" x2="719.3" y2="127.2"/>
<line x1="719.8" y1="108.8" x2="719.8" y2="149.0"/>
<line x1="721.4" y1="52.6" x2="721.4" y2="83.8"/>
<line x1="722.5" y1="64.1" x2="722.5" y2="95.0"/>
<line x1="724.1" y1="59.8" x2="724.1" y2="90.0"/>
<line x1="725.1" y1="89.3" x2="725.1" y2="119.1"/>
<line x1="726.7" y1="85.6" x2="726.7" y2="112.1"/>
<line x1="727.8" y1="93.9" x2="727.8" y2="127.7"/>
<line x1="729.9" y1="98.8" x2="729.9" y2="126.3"/>
<line x1="732.6" y1="79.9" x2="732.6" y2="120.4"/>
<line x1="731.3" y1="95.3" x2="731.3" y2="121.6"/>
<line x1="635.7" y1="81.1" x2="635.7" y2="113.5"/>
<line x1="494.8" y1="65.0" x2="494.8" y2="99.2"/>
<line x1="659.1" y1="101.0" x2="659.1" y2="139.1"/>
<line x1="513.2" y1="62.1" x2="513.2" y2="96.9"/>
<line x1="484.1" y1="89.9" x2="484.1" y2="120.0"/>
<line x1="659.0" y1="84.5" x2="659.0" y2="121.6"/>
<line x1="611.1" y1="60.1" x2="611.1" y2="93.8"/>
<line x1="624.9" y1="101.0" x2="624.9" y2="131.6"/>
<line x1="727.1" y1="100.6" x2="727.1" y2="132.5"/>
<line x1="534.9" y1="72.6" x2="534.9" y2="102.6"/>
<line x1="674.6" y1="100.9" x2="674.6" y2="139.3"/>
<line x1="516.2" y1="66.8" x2="516.2" y2="91.7"/>
<line x1="585.4" y1="81.1" x2="585.4" y2="119.9"/>
<line x1="596.4" y1="86.5" x2="596.4" y2="122.2"/>
<line x1="481.7" y1="93.7" x2="481.7" y2="125.2"/>
<line x1="474.8" y1="30.1" x2="474.8" y2="68.5"/>
<line x1="494.0" y1="29.0" x2="494.0" y2="66.3"/>
<line x1="626.0" y1="90.9" x2="626.0" y2="131.0"/>
<line x1="600.7" y1="65.3" x2="600.7" y2="89.9"/>
<line x1="714.3" y1="99.7" x2="714.3" y2="132.5"/>
<line x1="634.2" y1="44.6" x2="634.2" y2="82.2"/>
<line x1="499.2" y1="36.9" x2="499.2" y2="61.8"/>
<line x1="705.8" y1="86.1" x2="705.8" y2="114.5"/>
<line x1="716.5" y1="82.1" x2="716.5" y2="113.3"/>
<line x1="643.6" y1="115.4" x2="643.6" y2="145.6"/>
<line x1="619.4" y1="84.8" x2="619.4" y2="117.5"/>
<line x1="465.7" y1="77.3" x2="465.7" y2="107.7"/>
<line x1="450.3" y1="68.8" x2="450.3" y2="108.9"/>
<line x1="508.8" y1="57.5" x2="508.8" y2="83.9"/>
<line x1="552.3" y1="66.6" x2="552.3" y2="101.5"/>
<line x1="443.5" y1="38.9" x2="443.5" y2="72.0"/>
<line x1="689.6" y1="60.8" x2="689.6" y2="97.3"/>
<line x1="562.5" y1="81.4" x2="562.5" y2="120.6"/>
<line x1="632.3" y1="75.1" x2="632.3" y2="99.4"/>
<line x1="482.7" y1="118.2" x2="482.7" y2="149.4"/>
<line x1="517.1" y1="44.0" x2="517.1" y2="71.4"/>
<line x1="461.3" y1="83.7" x2="461.3" y2="114.6"/>
<line x1="651.0" y1="115.0" x2="651.0" y2="157.7"/>
<line x1="660.0" y1="73.0" x2="660.0" y2="108.2"/>
<line x1="486.2" y1="52.3" x2="486.2" y2="78.0"/>
<line x1="640.2" y1="59.2" x2="640.2" y2="94.4"/>
<line x1="449.0" y1="63.8" x2="449.0" y2="89.4"/>
<line x1="534.3" y1="72.7" x2="534.3" y2="102.1"/>
<line x1="466.0" y1="87.5" x2="466.0" y2="120.5"/>
<line x1="651.3" y1="59.7" x2="651.3" y2="99.6"/>
<line x1="525.9" y1="90.6" x2="525.9" y2="119.0"/>
<line x1="561.5" y1="81.8" x2="561.5" y2="115.2"/>
<line x1="561.0" y1="45.2" x2="561.0" y2="69.8"/>
<line x1="565.6" y1="99.0" x2="565.6" y2="125.0"/>
<line x1="507.8" y1="57.7" x2="507.8" y2="90.7"/>
<line x1="584.1" y1="31.0" x2="584.1" y2="66.7"/>
<line x1="671.8" y1="84.6" x2="671.8" y2="113.5"/>
<line x1="567.9" y1="32.4" x2="567.9" y2="69.1"/>
<line x1="472.5" y1="52.8" x2="472.5" y2="81.2"/>
<line x1="438.5" y1="105.1" x2="438.5" y2="132.0"/>
<line x1="464.7" y1="53.7" x2="464.7" y2="89.5"/>
<line x1="445.5" y1="64.6" x2="445.5" y2="98.1"/>
<line x1="449.7" y1="43.2" x2="449.7" y2="85.1"/>
<line x1="456.9" y1="38.2" x2="456.9" y2="63.0"/>
<line x1="603.3" y1="73.6" x2="603.3" y2="99.8"/>
<line x1="669.3" y1="97.8" x2="669.3" y2="132.6"/>
<line x1="684.8" y1="35.6" x2="684.8" y2="64.8"/>
<line x1="613.0" y1="75.2" x2="613.0" y2="112.0"/>
<line x1="604.0" y1="97.3" x2="604.0" y2="131.2"/>
<line x1="522.9" y1="88.0" x2="522.9" y2="123.3"/>
<line x1="708.1" y1="110.1" x2="708.1" y2="132.5"/>
<line x1="613.9" y1="84.0" x2="613.9" y2="116.3"/>
<line x1="641.8" y1="67.5" x2="641.8" y2="103.3"/>
<line x1="650.7" y1="113.3" x2="650.7" y2="151.8"/>
<line x1="683.7" y1="101.8" x2="683.7" y2="131.2"/>
<line x1="632.1" y1="96.4" x2="632.1" y2="125.0"/>
<line x1="711.9" y1="115.8" x2="711.9" y2="153.4"/>
<line x1="577.4" y1="85.5" x2="577.4" y2="117.0"/>
<line x1="579.0" y1="83.3" x2="579.0" y2="113.5"/>
<line x1="494.4" y1="84.3" x2="494.4" y2="114.6"/>
<line x1="715.6" y1="84.8" x2="715.6" y2="117.0"/>
<line x1="583.7" y1="84.2" x2="583.7" y2="109.6"/>
<line x1="570.4" y1="31.5" x2="570.4" y2="56.1"/>
<line x1="511.9" y1="79.6" x2="511.9" y2="115.3"/>
<line x1="500.8" y1="61.1" x2="500.8" y2="93.6"/>
<line x1="607.9" y1="102.8" x2="607.9" y2="134.6"/>
<line x1="552.5" y1="55.7" x2="552.5" y2="90.5"/>
</g>
<g fill="#0505e8">
<ellipse cx="428.3" cy="70.0" rx="2.45" ry="2.2"/>
<ellipse cx="430.2" cy="70.8" rx="2.45" ry="2.2"/>
<ellipse cx="429.1" cy="88.6" rx="2.45" ry="2.2"/>
<ellipse cx="429.7" cy="113.4" rx="2.45" ry="2.2"/>
<ellipse cx="431.8" cy="125.3" rx="2.45" ry="2.2"/>
<ellipse cx="433.6" cy="117.3" rx="2.45" ry="2.2"/>
<ellipse cx="435.5" cy="82.8" rx="2.45" ry="2.2"/>
<ellipse cx="437.1" cy="94.7" rx="2.45" ry="2.2"/>
<ellipse cx="437.6" cy="109.4" rx="2.45" ry="2.2"/>
<ellipse cx="439.0" cy="100.1" rx="2.45" ry="2.2"/>
<ellipse cx="436.3" cy="118.7" rx="2.45" ry="2.2"/>
<ellipse cx="440.8" cy="70.8" rx="2.45" ry="2.2"/>
<ellipse cx="441.6" cy="79.6" rx="2.45" ry="2.2"/>
<ellipse cx="442.4" cy="68.2" rx="2.45" ry="2.2"/>
<ellipse cx="442.4" cy="120.5" rx="2.45" ry="2.2"/>
<ellipse cx="444.3" cy="56.2" rx="2.45" ry="2.2"/>
<ellipse cx="446.9" cy="50.9" rx="2.45" ry="2.2"/>
<ellipse cx="446.1" cy="56.2" rx="2.45" ry="2.2"/>
<ellipse cx="448.3" cy="72.2" rx="2.45" ry="2.2"/>
<ellipse cx="448.8" cy="76.9" rx="2.45" ry="2.2"/>
<ellipse cx="450.4" cy="84.1" rx="2.45" ry="2.2"/>
<ellipse cx="450.4" cy="70.8" rx="2.45" ry="2.2"/>
<ellipse cx="451.5" cy="90.8" rx="2.45" ry="2.2"/>
<ellipse cx="452.2" cy="74.8" rx="2.45" ry="2.2"/>
<ellipse cx="453.6" cy="100.1" rx="2.45" ry="2.2"/>
<ellipse cx="454.9" cy="104.0" rx="2.45" ry="2.2"/>
<ellipse cx="455.7" cy="89.4" rx="2.45" ry="2.2"/>
<ellipse cx="456.8" cy="96.1" rx="2.45" ry="2.2"/>
<ellipse cx="457.6" cy="105.4" rx="2.45" ry="2.2"/>
<ellipse cx="460.2" cy="50.9" rx="2.45" ry="2.2"/>
<ellipse cx="461.0" cy="90.8" rx="2.45" ry="2.2"/>
<ellipse cx="462.1" cy="109.4" rx="2.45" ry="2.2"/>
<ellipse cx="464.2" cy="93.4" rx="2.45" ry="2.2"/>
<ellipse cx="465.5" cy="98.7" rx="2.45" ry="2.2"/>
<ellipse cx="466.3" cy="82.8" rx="2.45" ry="2.2"/>
<ellipse cx="468.2" cy="104.0" rx="2.45" ry="2.2"/>
<ellipse cx="469.5" cy="100.1" rx="2.45" ry="2.2"/>
<ellipse cx="470.1" cy="114.7" rx="2.45" ry="2.2"/>
<ellipse cx="471.7" cy="65.5" rx="2.45" ry="2.2"/>
<ellipse cx="473.5" cy="64.7" rx="2.45" ry="2.2"/>
<ellipse cx="474.3" cy="76.1" rx="2.45" ry="2.2"/>
<ellipse cx="474.8" cy="68.2" rx="2.45" ry="2.2"/>
<ellipse cx="476.2" cy="89.4" rx="2.45" ry="2.2"/>
<ellipse cx="477.0" cy="91.3" rx="2.45" ry="2.2"/>
<ellipse cx="478.0" cy="49.6" rx="2.45" ry="2.2"/>
<ellipse cx="477.5" cy="80.1" rx="2.45" ry="2.2"/>
<ellipse cx="479.6" cy="73.5" rx="2.45" ry="2.2"/>
<ellipse cx="482.3" cy="58.3" rx="2.45" ry="2.2"/>
<ellipse cx="482.8" cy="101.4" rx="2.45" ry="2.2"/>
<ellipse cx="483.3" cy="65.5" rx="2.45" ry="2.2"/>
<ellipse cx="484.9" cy="116.8" rx="2.45" ry="2.2"/>
<ellipse cx="486.8" cy="68.2" rx="2.45" ry="2.2"/>
<ellipse cx="489.5" cy="72.2" rx="2.45" ry="2.2"/>
<ellipse cx="490.8" cy="82.3" rx="2.45" ry="2.2"/>
<ellipse cx="492.9" cy="58.3" rx="2.45" ry="2.2"/>
<ellipse cx="494.0" cy="104.6" rx="2.45" ry="2.2"/>
<ellipse cx="495.6" cy="86.8" rx="2.45" ry="2.2"/>
<ellipse cx="496.6" cy="94.7" rx="2.45" ry="2.2"/>
<ellipse cx="497.4" cy="54.1" rx="2.45" ry="2.2"/>
<ellipse cx="498.2" cy="101.4" rx="2.45" ry="2.2"/>
<ellipse cx="498.8" cy="109.4" rx="2.45" ry="2.2"/>
<ellipse cx="500.1" cy="70.8" rx="2.45" ry="2.2"/>
<ellipse cx="502.0" cy="73.5" rx="2.45" ry="2.2"/>
<ellipse cx="504.1" cy="80.1" rx="2.45" ry="2.2"/>
<ellipse cx="505.4" cy="86.8" rx="2.45" ry="2.2"/>
<ellipse cx="501.3" cy="70.8" rx="2.45" ry="2.2"/>
<ellipse cx="500.5" cy="103.5" rx="2.45" ry="2.2"/>
<ellipse cx="504.0" cy="68.2" rx="2.45" ry="2.2"/>
<ellipse cx="504.8" cy="89.4" rx="2.45" ry="2.2"/>
<ellipse cx="506.6" cy="82.8" rx="2.45" ry="2.2"/>
<ellipse cx="510.1" cy="53.6" rx="2.45" ry="2.2"/>
<ellipse cx="510.1" cy="90.8" rx="2.45" ry="2.2"/>
<ellipse cx="511.2" cy="96.1" rx="2.45" ry="2.2"/>
<ellipse cx="512.0" cy="100.1" rx="2.45" ry="2.2"/>
<ellipse cx="512.8" cy="86.8" rx="2.45" ry="2.2"/>
<ellipse cx="514.6" cy="78.8" rx="2.45" ry="2.2"/>
<ellipse cx="515.9" cy="101.4" rx="2.45" ry="2.2"/>
<ellipse cx="517.3" cy="58.9" rx="2.45" ry="2.2"/>
<ellipse cx="518.6" cy="94.7" rx="2.45" ry="2.2"/>
<ellipse cx="519.1" cy="113.4" rx="2.45" ry="2.2"/>
<ellipse cx="521.3" cy="90.8" rx="2.45" ry="2.2"/>
<ellipse cx="523.4" cy="45.0" rx="2.45" ry="2.2"/>
<ellipse cx="523.9" cy="72.2" rx="2.45" ry="2.2"/>
<ellipse cx="525.2" cy="89.4" rx="2.45" ry="2.2"/>
<ellipse cx="527.1" cy="100.1" rx="2.45" ry="2.2"/>
<ellipse cx="527.9" cy="58.9" rx="2.45" ry="2.2"/>
<ellipse cx="528.7" cy="66.8" rx="2.45" ry="2.2"/>
<ellipse cx="530.6" cy="82.8" rx="2.45" ry="2.2"/>
<ellipse cx="531.4" cy="104.0" rx="2.45" ry="2.2"/>
<ellipse cx="532.4" cy="49.6" rx="2.45" ry="2.2"/>
<ellipse cx="533.2" cy="54.9" rx="2.45" ry="2.2"/>
<ellipse cx="534.0" cy="78.0" rx="2.45" ry="2.2"/>
<ellipse cx="535.1" cy="88.1" rx="2.45" ry="2.2"/>
<ellipse cx="536.7" cy="94.7" rx="2.45" ry="2.2"/>
<ellipse cx="538.5" cy="118.7" rx="2.45" ry="2.2"/>
<ellipse cx="539.3" cy="82.8" rx="2.45" ry="2.2"/>
<ellipse cx="541.2" cy="68.2" rx="2.45" ry="2.2"/>
<ellipse cx="542.5" cy="93.4" rx="2.45" ry="2.2"/>
<ellipse cx="543.9" cy="104.0" rx="2.45" ry="2.2"/>
<ellipse cx="545.2" cy="74.8" rx="2.45" ry="2.2"/>
<ellipse cx="547.3" cy="53.6" rx="2.45" ry="2.2"/>
<ellipse cx="547.8" cy="82.8" rx="2.45" ry="2.2"/>
<ellipse cx="549.2" cy="61.5" rx="2.45" ry="2.2"/>
<ellipse cx="551.8" cy="97.4" rx="2.45" ry="2.2"/>
<ellipse cx="553.2" cy="86.8" rx="2.45" ry="2.2"/>
<ellipse cx="554.5" cy="73.5" rx="2.45" ry="2.2"/>
<ellipse cx="555.8" cy="82.8" rx="2.45" ry="2.2"/>
<ellipse cx="557.1" cy="66.3" rx="2.45" ry="2.2"/>
<ellipse cx="559.0" cy="104.0" rx="2.45" ry="2.2"/>
<ellipse cx="560.6" cy="98.7" rx="2.45" ry="2.2"/>
<ellipse cx="562.5" cy="54.9" rx="2.45" ry="2.2"/>
<ellipse cx="563.3" cy="122.7" rx="2.45" ry="2.2"/>
<ellipse cx="563.8" cy="101.4" rx="2.45" ry="2.2"/>
<ellipse cx="565.1" cy="72.2" rx="2.45" ry="2.2"/>
<ellipse cx="567.8" cy="52.2" rx="2.45" ry="2.2"/>
<ellipse cx="568.6" cy="73.5" rx="2.45" ry="2.2"/>
<ellipse cx="570.4" cy="82.8" rx="2.45" ry="2.2"/>
<ellipse cx="571.2" cy="41.6" rx="2.45" ry="2.2"/>
<ellipse cx="572.3" cy="48.8" rx="2.45" ry="2.2"/>
<ellipse cx="573.9" cy="89.4" rx="2.45" ry="2.2"/>
<ellipse cx="575.0" cy="69.5" rx="2.45" ry="2.2"/>
<ellipse cx="575.7" cy="98.7" rx="2.45" ry="2.2"/>
<ellipse cx="577.6" cy="76.1" rx="2.45" ry="2.2"/>
<ellipse cx="578.4" cy="109.4" rx="2.45" ry="2.2"/>
<ellipse cx="579.2" cy="86.8" rx="2.45" ry="2.2"/>
<ellipse cx="575.5" cy="53.6" rx="2.45" ry="2.2"/>
<ellipse cx="576.3" cy="73.5" rx="2.45" ry="2.2"/>
<ellipse cx="578.2" cy="79.6" rx="2.45" ry="2.2"/>
<ellipse cx="579.0" cy="97.4" rx="2.45" ry="2.2"/>
<ellipse cx="580.3" cy="109.4" rx="2.45" ry="2.2"/>
<ellipse cx="582.4" cy="88.1" rx="2.45" ry="2.2"/>
<ellipse cx="584.3" cy="94.7" rx="2.45" ry="2.2"/>
<ellipse cx="586.2" cy="72.2" rx="2.45" ry="2.2"/>
<ellipse cx="587.0" cy="84.9" rx="2.45" ry="2.2"/>
<ellipse cx="588.3" cy="93.4" rx="2.45" ry="2.2"/>
<ellipse cx="589.6" cy="98.7" rx="2.45" ry="2.2"/>
<ellipse cx="591.0" cy="78.8" rx="2.45" ry="2.2"/>
<ellipse cx="593.1" cy="69.5" rx="2.45" ry="2.2"/>
<ellipse cx="594.1" cy="105.4" rx="2.45" ry="2.2"/>
<ellipse cx="595.7" cy="84.1" rx="2.45" ry="2.2"/>
<ellipse cx="597.6" cy="74.8" rx="2.45" ry="2.2"/>
<ellipse cx="598.9" cy="97.4" rx="2.45" ry="2.2"/>
<ellipse cx="600.2" cy="120.0" rx="2.45" ry="2.2"/>
<ellipse cx="602.1" cy="93.4" rx="2.45" ry="2.2"/>
<ellipse cx="603.7" cy="68.2" rx="2.45" ry="2.2"/>
<ellipse cx="604.8" cy="85.4" rx="2.45" ry="2.2"/>
<ellipse cx="606.4" cy="78.8" rx="2.45" ry="2.2"/>
<ellipse cx="607.4" cy="94.7" rx="2.45" ry="2.2"/>
<ellipse cx="609.0" cy="100.1" rx="2.45" ry="2.2"/>
<ellipse cx="610.1" cy="94.7" rx="2.45" ry="2.2"/>
<ellipse cx="610.9" cy="138.6" rx="2.45" ry="2.2"/>
<ellipse cx="612.7" cy="89.4" rx="2.45" ry="2.2"/>
<ellipse cx="614.3" cy="72.2" rx="2.45" ry="2.2"/>
<ellipse cx="614.9" cy="82.8" rx="2.45" ry="2.2"/>
<ellipse cx="616.2" cy="94.7" rx="2.45" ry="2.2"/>
<ellipse cx="617.5" cy="106.7" rx="2.45" ry="2.2"/>
<ellipse cx="619.7" cy="57.5" rx="2.45" ry="2.2"/>
<ellipse cx="620.7" cy="80.1" rx="2.45" ry="2.2"/>
<ellipse cx="622.3" cy="93.4" rx="2.45" ry="2.2"/>
<ellipse cx="623.4" cy="96.1" rx="2.45" ry="2.2"/>
<ellipse cx="625.5" cy="113.4" rx="2.45" ry="2.2"/>
<ellipse cx="628.2" cy="101.4" rx="2.45" ry="2.2"/>
<ellipse cx="629.5" cy="82.8" rx="2.45" ry="2.2"/>
<ellipse cx="630.8" cy="101.4" rx="2.45" ry="2.2"/>
<ellipse cx="632.1" cy="74.8" rx="2.45" ry="2.2"/>
<ellipse cx="634.0" cy="85.4" rx="2.45" ry="2.2"/>
<ellipse cx="635.6" cy="104.0" rx="2.45" ry="2.2"/>
<ellipse cx="637.5" cy="80.1" rx="2.45" ry="2.2"/>
<ellipse cx="639.3" cy="106.7" rx="2.45" ry="2.2"/>
<ellipse cx="641.4" cy="66.8" rx="2.45" ry="2.2"/>
<ellipse cx="642.8" cy="56.2" rx="2.45" ry="2.2"/>
<ellipse cx="643.6" cy="82.8" rx="2.45" ry="2.2"/>
<ellipse cx="645.4" cy="74.8" rx="2.45" ry="2.2"/>
<ellipse cx="646.8" cy="130.6" rx="2.45" ry="2.2"/>
<ellipse cx="648.1" cy="108.0" rx="2.45" ry="2.2"/>
<ellipse cx="650.0" cy="85.4" rx="2.45" ry="2.2"/>
<ellipse cx="651.5" cy="82.8" rx="2.45" ry="2.2"/>
<ellipse cx="652.6" cy="112.1" rx="2.45" ry="2.2"/>
<ellipse cx="654.2" cy="98.7" rx="2.45" ry="2.2"/>
<ellipse cx="651.3" cy="81.6" rx="2.45" ry="2.2"/>
<ellipse cx="652.1" cy="111.7" rx="2.45" ry="2.2"/>
<ellipse cx="653.2" cy="98.9" rx="2.45" ry="2.2"/>
<ellipse cx="655.3" cy="120.3" rx="2.45" ry="2.2"/>
<ellipse cx="657.5" cy="88.8" rx="2.45" ry="2.2"/>
<ellipse cx="658.0" cy="70.2" rx="2.45" ry="2.2"/>
<ellipse cx="659.3" cy="98.9" rx="2.45" ry="2.2"/>
<ellipse cx="660.7" cy="117.6" rx="2.45" ry="2.2"/>
<ellipse cx="662.0" cy="104.3" rx="2.45" ry="2.2"/>
<ellipse cx="663.3" cy="97.6" rx="2.45" ry="2.2"/>
<ellipse cx="664.7" cy="109.6" rx="2.45" ry="2.2"/>
<ellipse cx="666.5" cy="96.3" rx="2.45" ry="2.2"/>
<ellipse cx="667.3" cy="125.0" rx="2.45" ry="2.2"/>
<ellipse cx="669.2" cy="101.6" rx="2.45" ry="2.2"/>
<ellipse cx="670.8" cy="87.7" rx="2.45" ry="2.2"/>
<ellipse cx="672.6" cy="80.3" rx="2.45" ry="2.2"/>
<ellipse cx="673.4" cy="64.8" rx="2.45" ry="2.2"/>
<ellipse cx="674.5" cy="76.3" rx="2.45" ry="2.2"/>
<ellipse cx="675.3" cy="97.6" rx="2.45" ry="2.2"/>
<ellipse cx="676.6" cy="122.9" rx="2.45" ry="2.2"/>
<ellipse cx="678.8" cy="72.3" rx="2.45" ry="2.2"/>
<ellipse cx="679.8" cy="80.8" rx="2.45" ry="2.2"/>
<ellipse cx="681.4" cy="88.8" rx="2.45" ry="2.2"/>
<ellipse cx="682.5" cy="50.4" rx="2.45" ry="2.2"/>
<ellipse cx="683.3" cy="104.3" rx="2.45" ry="2.2"/>
<ellipse cx="684.1" cy="73.6" rx="2.45" ry="2.2"/>
<ellipse cx="685.2" cy="80.8" rx="2.45" ry="2.2"/>
<ellipse cx="686.8" cy="71.8" rx="2.45" ry="2.2"/>
<ellipse cx="687.8" cy="84.3" rx="2.45" ry="2.2"/>
<ellipse cx="690.0" cy="111.7" rx="2.45" ry="2.2"/>
<ellipse cx="691.3" cy="76.3" rx="2.45" ry="2.2"/>
<ellipse cx="692.6" cy="83.0" rx="2.45" ry="2.2"/>
<ellipse cx="694.0" cy="76.3" rx="2.45" ry="2.2"/>
<ellipse cx="695.8" cy="109.1" rx="2.45" ry="2.2"/>
<ellipse cx="697.4" cy="89.6" rx="2.45" ry="2.2"/>
<ellipse cx="698.5" cy="74.4" rx="2.45" ry="2.2"/>
<ellipse cx="700.1" cy="50.4" rx="2.45" ry="2.2"/>
<ellipse cx="702.0" cy="110.1" rx="2.45" ry="2.2"/>
<ellipse cx="703.3" cy="98.9" rx="2.45" ry="2.2"/>
<ellipse cx="705.4" cy="87.0" rx="2.45" ry="2.2"/>
<ellipse cx="706.5" cy="108.3" rx="2.45" ry="2.2"/>
<ellipse cx="708.1" cy="122.9" rx="2.45" ry="2.2"/>
<ellipse cx="709.2" cy="98.9" rx="2.45" ry="2.2"/>
<ellipse cx="711.8" cy="110.9" rx="2.45" ry="2.2"/>
<ellipse cx="713.9" cy="117.6" rx="2.45" ry="2.2"/>
<ellipse cx="715.3" cy="91.0" rx="2.45" ry="2.2"/>
<ellipse cx="717.9" cy="98.9" rx="2.45" ry="2.2"/>
<ellipse cx="719.3" cy="113.6" rx="2.45" ry="2.2"/>
<ellipse cx="719.8" cy="128.2" rx="2.45" ry="2.2"/>
<ellipse cx="721.4" cy="69.1" rx="2.45" ry="2.2"/>
<ellipse cx="722.5" cy="79.8" rx="2.45" ry="2.2"/>
<ellipse cx="724.1" cy="75.0" rx="2.45" ry="2.2"/>
<ellipse cx="725.1" cy="104.3" rx="2.45" ry="2.2"/>
<ellipse cx="726.7" cy="98.9" rx="2.45" ry="2.2"/>
<ellipse cx="727.8" cy="110.9" rx="2.45" ry="2.2"/>
<ellipse cx="729.9" cy="113.6" rx="2.45" ry="2.2"/>
<ellipse cx="732.6" cy="98.9" rx="2.45" ry="2.2"/>
<ellipse cx="731.3" cy="108.3" rx="2.45" ry="2.2"/>
<ellipse cx="635.7" cy="96.8" rx="2.45" ry="2.2"/>
<ellipse cx="494.8" cy="81.7" rx="2.45" ry="2.2"/>
<ellipse cx="659.1" cy="118.8" rx="2.45" ry="2.2"/>
<ellipse cx="513.2" cy="79.4" rx="2.45" ry="2.2"/>
<ellipse cx="484.1" cy="105.3" rx="2.45" ry="2.2"/>
<ellipse cx="659.0" cy="102.4" rx="2.45" ry="2.2"/>
<ellipse cx="611.1" cy="77.8" rx="2.45" ry="2.2"/>
<ellipse cx="624.9" cy="116.1" rx="2.45" ry="2.2"/>
<ellipse cx="727.1" cy="116.0" rx="2.45" ry="2.2"/>
<ellipse cx="534.9" cy="87.5" rx="2.45" ry="2.2"/>
<ellipse cx="674.6" cy="119.2" rx="2.45" ry="2.2"/>
<ellipse cx="516.2" cy="79.9" rx="2.45" ry="2.2"/>
<ellipse cx="585.4" cy="99.6" rx="2.45" ry="2.2"/>
<ellipse cx="596.4" cy="103.3" rx="2.45" ry="2.2"/>
<ellipse cx="481.7" cy="108.6" rx="2.45" ry="2.2"/>
<ellipse cx="474.8" cy="49.7" rx="2.45" ry="2.2"/>
<ellipse cx="494.0" cy="48.7" rx="2.45" ry="2.2"/>
<ellipse cx="626.0" cy="110.7" rx="2.45" ry="2.2"/>
<ellipse cx="600.7" cy="78.1" rx="2.45" ry="2.2"/>
<ellipse cx="714.3" cy="115.6" rx="2.45" ry="2.2"/>
<ellipse cx="634.2" cy="63.9" rx="2.45" ry="2.2"/>
<ellipse cx="499.2" cy="49.0" rx="2.45" ry="2.2"/>
<ellipse cx="705.8" cy="100.5" rx="2.45" ry="2.2"/>
<ellipse cx="716.5" cy="97.7" rx="2.45" ry="2.2"/>
<ellipse cx="643.6" cy="129.6" rx="2.45" ry="2.2"/>
<ellipse cx="619.4" cy="101.4" rx="2.45" ry="2.2"/>
<ellipse cx="465.7" cy="93.6" rx="2.45" ry="2.2"/>
<ellipse cx="450.3" cy="87.6" rx="2.45" ry="2.2"/>
<ellipse cx="508.8" cy="71.4" rx="2.45" ry="2.2"/>
<ellipse cx="552.3" cy="84.6" rx="2.45" ry="2.2"/>
<ellipse cx="443.5" cy="54.8" rx="2.45" ry="2.2"/>
<ellipse cx="689.6" cy="80.5" rx="2.45" ry="2.2"/>
<ellipse cx="562.5" cy="100.3" rx="2.45" ry="2.2"/>
<ellipse cx="632.3" cy="87.2" rx="2.45" ry="2.2"/>
<ellipse cx="482.7" cy="133.4" rx="2.45" ry="2.2"/>
<ellipse cx="517.1" cy="58.0" rx="2.45" ry="2.2"/>
<ellipse cx="461.3" cy="99.6" rx="2.45" ry="2.2"/>
<ellipse cx="651.0" cy="135.0" rx="2.45" ry="2.2"/>
<ellipse cx="660.0" cy="89.6" rx="2.45" ry="2.2"/>
<ellipse cx="486.2" cy="64.9" rx="2.45" ry="2.2"/>
<ellipse cx="640.2" cy="77.2" rx="2.45" ry="2.2"/>
<ellipse cx="449.0" cy="77.4" rx="2.45" ry="2.2"/>
<ellipse cx="534.3" cy="88.4" rx="2.45" ry="2.2"/>
<ellipse cx="466.0" cy="104.6" rx="2.45" ry="2.2"/>
<ellipse cx="651.3" cy="79.0" rx="2.45" ry="2.2"/>
<ellipse cx="525.9" cy="105.3" rx="2.45" ry="2.2"/>
<ellipse cx="561.5" cy="99.1" rx="2.45" ry="2.2"/>
<ellipse cx="561.0" cy="57.4" rx="2.45" ry="2.2"/>
<ellipse cx="565.6" cy="111.5" rx="2.45" ry="2.2"/>
<ellipse cx="507.8" cy="73.1" rx="2.45" ry="2.2"/>
<ellipse cx="584.1" cy="47.7" rx="2.45" ry="2.2"/>
<ellipse cx="671.8" cy="98.9" rx="2.45" ry="2.2"/>
<ellipse cx="567.9" cy="50.4" rx="2.45" ry="2.2"/>
<ellipse cx="472.5" cy="67.3" rx="2.45" ry="2.2"/>
<ellipse cx="438.5" cy="119.3" rx="2.45" ry="2.2"/>
<ellipse cx="464.7" cy="71.3" rx="2.45" ry="2.2"/>
<ellipse cx="445.5" cy="82.3" rx="2.45" ry="2.2"/>
<ellipse cx="449.7" cy="63.0" rx="2.45" ry="2.2"/>
<ellipse cx="456.9" cy="51.3" rx="2.45" ry="2.2"/>
<ellipse cx="603.3" cy="86.3" rx="2.45" ry="2.2"/>
<ellipse cx="669.3" cy="116.5" rx="2.45" ry="2.2"/>
<ellipse cx="684.8" cy="49.8" rx="2.45" ry="2.2"/>
<ellipse cx="613.0" cy="94.5" rx="2.45" ry="2.2"/>
<ellipse cx="604.0" cy="113.8" rx="2.45" ry="2.2"/>
<ellipse cx="522.9" cy="104.8" rx="2.45" ry="2.2"/>
<ellipse cx="708.1" cy="122.2" rx="2.45" ry="2.2"/>
<ellipse cx="613.9" cy="100.5" rx="2.45" ry="2.2"/>
<ellipse cx="641.8" cy="86.5" rx="2.45" ry="2.2"/>
<ellipse cx="650.7" cy="133.2" rx="2.45" ry="2.2"/>
<ellipse cx="683.7" cy="116.9" rx="2.45" ry="2.2"/>
<ellipse cx="632.1" cy="109.7" rx="2.45" ry="2.2"/>
<ellipse cx="711.9" cy="135.0" rx="2.45" ry="2.2"/>
<ellipse cx="577.4" cy="100.8" rx="2.45" ry="2.2"/>
<ellipse cx="579.0" cy="99.0" rx="2.45" ry="2.2"/>
<ellipse cx="494.4" cy="100.0" rx="2.45" ry="2.2"/>
<ellipse cx="715.6" cy="101.2" rx="2.45" ry="2.2"/>
<ellipse cx="583.7" cy="96.7" rx="2.45" ry="2.2"/>
<ellipse cx="570.4" cy="43.6" rx="2.45" ry="2.2"/>
<ellipse cx="511.9" cy="97.7" rx="2.45" ry="2.2"/>
<ellipse cx="500.8" cy="78.1" rx="2.45" ry="2.2"/>
<ellipse cx="607.9" cy="117.9" rx="2.45" ry="2.2"/>
<ellipse cx="552.5" cy="72.9" rx="2.45" ry="2.2"/>
</g>
</g>
<g clip-path="url(#c0427)"><path d="M427.40,91.60 C428.33,91.58 429.07,91.93 433.00,91.50 C436.93,91.07 445.67,89.87 451.00,89.00 C456.33,88.13 460.00,87.17 465.00,86.30 C470.00,85.42 476.00,84.59 481.00,83.75 C486.00,82.91 489.83,81.94 495.00,81.25 C500.17,80.56 506.83,79.97 512.00,79.60 C517.17,79.22 520.83,78.93 526.00,79.00 C531.17,79.07 537.83,79.55 543.00,80.00 C548.17,80.45 552.00,80.97 557.00,81.70 C562.00,82.43 567.33,83.37 573.00,84.40 C578.67,85.43 586.00,86.97 591.00,87.90 C596.00,88.83 598.67,89.47 603.00,90.00 C607.33,90.53 612.00,90.73 617.00,91.10 C622.00,91.47 628.17,91.90 633.00,92.20 C637.83,92.50 641.00,92.72 646.00,92.90 C651.00,93.08 657.83,93.23 663.00,93.30 C668.17,93.37 671.83,93.30 677.00,93.30 C682.17,93.30 688.83,93.37 694.00,93.30 C699.17,93.23 703.00,93.08 708.00,92.90 C713.00,92.72 719.80,92.42 724.00,92.20 C728.20,91.98 731.67,91.70 733.20,91.60" fill="none" stroke="#ff0000" stroke-width="3" stroke-dasharray="8.3 7.2"/></g>
<g clip-path="url(#c1427)">
<g stroke="#3030ff" stroke-width="1.3">
<line x1="433.6" y1="238.3" x2="433.6" y2="273.4"/>
<line x1="445.0" y1="246.3" x2="445.0" y2="282.0"/>
<line x1="455.5" y1="220.6" x2="455.5" y2="262.0"/>
<line x1="457.0" y1="233.0" x2="457.0" y2="273.0"/>
<line x1="455.0" y1="263.4" x2="455.0" y2="300.5"/>
<line x1="467.2" y1="249.0" x2="467.2" y2="284.8"/>
<line x1="468.4" y1="252.0" x2="468.4" y2="287.0"/>
<line x1="479.2" y1="243.5" x2="479.2" y2="275.0"/>
<line x1="479.8" y1="258.0" x2="479.8" y2="292.0"/>
<line x1="478.6" y1="262.0" x2="478.6" y2="300.5"/>
<line x1="490.6" y1="242.0" x2="490.6" y2="276.0"/>
<line x1="490.6" y1="250.0" x2="490.6" y2="283.0"/>
<line x1="490.6" y1="262.0" x2="490.6" y2="292.0"/>
<line x1="503.4" y1="242.0" x2="503.4" y2="272.0"/>
<line x1="502.6" y1="269.0" x2="502.6" y2="307.6"/>
<line x1="514.8" y1="222.0" x2="514.8" y2="262.0"/>
<line x1="514.8" y1="248.0" x2="514.8" y2="282.0"/>
<line x1="526.3" y1="243.0" x2="526.3" y2="276.0"/>
<line x1="525.4" y1="258.0" x2="525.4" y2="292.0"/>
<line x1="525.4" y1="279.0" x2="525.4" y2="309.0"/>
<line x1="536.8" y1="260.0" x2="536.8" y2="294.0"/>
<line x1="536.8" y1="283.0" x2="536.8" y2="313.0"/>
<line x1="539.0" y1="252.0" x2="539.0" y2="284.0"/>
<line x1="549.0" y1="240.0" x2="549.0" y2="270.0"/>
<line x1="549.6" y1="252.0" x2="549.6" y2="285.0"/>
<line x1="561.9" y1="230.0" x2="561.9" y2="263.0"/>
<line x1="561.9" y1="251.0" x2="561.9" y2="284.0"/>
<line x1="561.3" y1="236.0" x2="561.3" y2="268.0"/>
<line x1="573.3" y1="238.0" x2="573.3" y2="272.0"/>
<line x1="572.8" y1="263.0" x2="572.8" y2="297.0"/>
<line x1="572.5" y1="202.0" x2="572.5" y2="215.0"/>
<line x1="584.2" y1="223.3" x2="584.2" y2="247.0"/>
<line x1="584.4" y1="243.0" x2="584.4" y2="276.0"/>
<line x1="585.8" y1="248.0" x2="585.8" y2="281.4"/>
<line x1="444.4" y1="310.0" x2="444.4" y2="350.0"/>
<line x1="595.5" y1="196.4" x2="595.5" y2="215.0"/>
<line x1="597.2" y1="204.0" x2="597.2" y2="236.0"/>
<line x1="597.8" y1="220.0" x2="597.8" y2="254.0"/>
<line x1="596.4" y1="224.0" x2="596.4" y2="256.0"/>
<line x1="595.8" y1="245.0" x2="595.8" y2="278.0"/>
<line x1="608.4" y1="193.5" x2="608.4" y2="218.0"/>
<line x1="608.4" y1="211.0" x2="608.4" y2="244.0"/>
<line x1="608.7" y1="221.0" x2="608.7" y2="250.6"/>
<line x1="619.9" y1="170.0" x2="619.9" y2="191.4"/>
<line x1="621.5" y1="220.5" x2="621.5" y2="255.2"/>
<line x1="632.0" y1="205.0" x2="632.0" y2="237.0"/>
<line x1="631.5" y1="231.0" x2="631.5" y2="264.0"/>
<line x1="632.8" y1="256.0" x2="632.8" y2="298.4"/>
<line x1="642.9" y1="189.6" x2="642.9" y2="230.0"/>
<line x1="644.5" y1="213.0" x2="644.5" y2="246.0"/>
<line x1="655.2" y1="211.9" x2="655.2" y2="246.0"/>
<line x1="655.9" y1="227.0" x2="655.9" y2="260.0"/>
<line x1="656.3" y1="231.0" x2="656.3" y2="264.0"/>
<line x1="667.7" y1="199.0" x2="667.7" y2="240.0"/>
<line x1="666.3" y1="229.0" x2="666.3" y2="262.0"/>
<line x1="667.7" y1="254.0" x2="667.7" y2="292.0"/>
<line x1="680.0" y1="230.0" x2="680.0" y2="262.0"/>
<line x1="690.5" y1="218.0" x2="690.5" y2="259.0"/>
<line x1="701.4" y1="191.0" x2="701.4" y2="240.0"/>
<line x1="702.5" y1="236.0" x2="702.5" y2="270.0"/>
<line x1="703.4" y1="242.0" x2="703.4" y2="276.0"/>
<line x1="714.8" y1="223.0" x2="714.8" y2="256.0"/>
<line x1="714.8" y1="230.0" x2="714.8" y2="263.0"/>
<line x1="713.3" y1="150.0" x2="713.3" y2="190.0"/>
<line x1="727.0" y1="197.0" x2="727.0" y2="228.0"/>
<line x1="726.7" y1="246.0" x2="726.7" y2="278.0"/>
<line x1="725.3" y1="258.0" x2="725.3" y2="293.0"/>
</g>
<g fill="#0505e8">
<ellipse cx="433.6" cy="255.7" rx="2.45" ry="2.2"/>
<ellipse cx="445.0" cy="264.0" rx="2.45" ry="2.2"/>
<ellipse cx="455.5" cy="242.0" rx="2.45" ry="2.2"/>
<ellipse cx="457.0" cy="252.6" rx="2.45" ry="2.2"/>
<ellipse cx="455.0" cy="279.7" rx="2.45" ry="2.2"/>
<ellipse cx="467.2" cy="264.8" rx="2.45" ry="2.2"/>
<ellipse cx="468.4" cy="269.1" rx="2.45" ry="2.2"/>
<ellipse cx="479.2" cy="257.7" rx="2.45" ry="2.2"/>
<ellipse cx="479.8" cy="274.3" rx="2.45" ry="2.2"/>
<ellipse cx="478.6" cy="277.1" rx="2.45" ry="2.2"/>
<ellipse cx="490.6" cy="258.6" rx="2.45" ry="2.2"/>
<ellipse cx="490.6" cy="266.3" rx="2.45" ry="2.2"/>
<ellipse cx="490.6" cy="278.5" rx="2.45" ry="2.2"/>
<ellipse cx="503.4" cy="257.7" rx="2.45" ry="2.2"/>
<ellipse cx="502.6" cy="288.5" rx="2.45" ry="2.2"/>
<ellipse cx="514.8" cy="244.9" rx="2.45" ry="2.2"/>
<ellipse cx="514.8" cy="264.8" rx="2.45" ry="2.2"/>
<ellipse cx="526.3" cy="259.1" rx="2.45" ry="2.2"/>
<ellipse cx="525.4" cy="275.4" rx="2.45" ry="2.2"/>
<ellipse cx="525.4" cy="294.8" rx="2.45" ry="2.2"/>
<ellipse cx="536.8" cy="276.8" rx="2.45" ry="2.2"/>
<ellipse cx="536.8" cy="299.6" rx="2.45" ry="2.2"/>
<ellipse cx="539.0" cy="267.7" rx="2.45" ry="2.2"/>
<ellipse cx="549.0" cy="255.4" rx="2.45" ry="2.2"/>
<ellipse cx="549.6" cy="268.6" rx="2.45" ry="2.2"/>
<ellipse cx="561.9" cy="246.3" rx="2.45" ry="2.2"/>
<ellipse cx="561.9" cy="267.7" rx="2.45" ry="2.2"/>
<ellipse cx="561.3" cy="252.6" rx="2.45" ry="2.2"/>
<ellipse cx="573.3" cy="254.9" rx="2.45" ry="2.2"/>
<ellipse cx="572.8" cy="279.7" rx="2.45" ry="2.2"/>
<ellipse cx="572.5" cy="208.7" rx="2.45" ry="2.2"/>
<ellipse cx="584.2" cy="230.6" rx="2.45" ry="2.2"/>
<ellipse cx="584.4" cy="259.7" rx="2.45" ry="2.2"/>
<ellipse cx="585.8" cy="264.8" rx="2.45" ry="2.2"/>
<ellipse cx="444.4" cy="330.0" rx="2.45" ry="2.2"/>
<ellipse cx="595.5" cy="205.8" rx="2.45" ry="2.2"/>
<ellipse cx="597.2" cy="220.5" rx="2.45" ry="2.2"/>
<ellipse cx="597.8" cy="237.2" rx="2.45" ry="2.2"/>
<ellipse cx="596.4" cy="240.0" rx="2.45" ry="2.2"/>
<ellipse cx="595.8" cy="261.1" rx="2.45" ry="2.2"/>
<ellipse cx="608.4" cy="206.2" rx="2.45" ry="2.2"/>
<ellipse cx="608.4" cy="227.8" rx="2.45" ry="2.2"/>
<ellipse cx="608.7" cy="237.4" rx="2.45" ry="2.2"/>
<ellipse cx="619.9" cy="181.8" rx="2.45" ry="2.2"/>
<ellipse cx="621.5" cy="237.4" rx="2.45" ry="2.2"/>
<ellipse cx="632.0" cy="221.5" rx="2.45" ry="2.2"/>
<ellipse cx="631.5" cy="247.7" rx="2.45" ry="2.2"/>
<ellipse cx="632.8" cy="272.3" rx="2.45" ry="2.2"/>
<ellipse cx="642.9" cy="208.5" rx="2.45" ry="2.2"/>
<ellipse cx="644.5" cy="229.7" rx="2.45" ry="2.2"/>
<ellipse cx="655.2" cy="229.7" rx="2.45" ry="2.2"/>
<ellipse cx="655.9" cy="243.3" rx="2.45" ry="2.2"/>
<ellipse cx="656.3" cy="247.9" rx="2.45" ry="2.2"/>
<ellipse cx="667.7" cy="223.5" rx="2.45" ry="2.2"/>
<ellipse cx="666.3" cy="245.7" rx="2.45" ry="2.2"/>
<ellipse cx="667.7" cy="270.6" rx="2.45" ry="2.2"/>
<ellipse cx="680.0" cy="246.3" rx="2.45" ry="2.2"/>
<ellipse cx="690.5" cy="240.0" rx="2.45" ry="2.2"/>
<ellipse cx="701.4" cy="217.8" rx="2.45" ry="2.2"/>
<ellipse cx="702.5" cy="252.6" rx="2.45" ry="2.2"/>
<ellipse cx="703.4" cy="258.6" rx="2.45" ry="2.2"/>
<ellipse cx="714.8" cy="239.2" rx="2.45" ry="2.2"/>
<ellipse cx="714.8" cy="246.3" rx="2.45" ry="2.2"/>
<ellipse cx="713.3" cy="170.0" rx="2.45" ry="2.2"/>
<ellipse cx="727.0" cy="212.1" rx="2.45" ry="2.2"/>
<ellipse cx="726.7" cy="262.0" rx="2.45" ry="2.2"/>
<ellipse cx="725.3" cy="274.3" rx="2.45" ry="2.2"/>
</g>
</g>
<g clip-path="url(#c1427)"><path d="M427.40,249.60 C432.23,250.95 447.30,255.55 456.40,257.70 C465.50,259.85 474.73,261.03 482.00,262.50 C489.27,263.97 495.00,265.53 500.00,266.50 C505.00,267.47 507.87,268.10 512.00,268.30 C516.13,268.50 519.33,268.98 524.80,267.70 C530.27,266.42 537.67,263.60 544.80,260.60 C551.93,257.60 561.62,252.93 567.60,249.70 C573.58,246.47 574.72,244.38 580.70,241.20 C586.68,238.02 597.32,233.08 603.50,230.60 C609.68,228.12 613.05,227.10 617.80,226.30 C622.55,225.50 625.82,225.08 632.00,225.80 C638.18,226.52 647.28,228.52 654.90,230.60 C662.52,232.68 670.10,236.15 677.70,238.30 C685.30,240.45 692.42,241.93 700.50,243.50 C708.58,245.07 720.75,246.78 726.20,247.70 C731.65,248.62 732.03,248.78 733.20,249.00" fill="none" stroke="#ff0000" stroke-width="3" stroke-dasharray="8.3 7.2"/></g>
<g clip-path="url(#c2427)">
<g stroke="#3030ff" stroke-width="1.3">
<line x1="430.2" y1="358.9" x2="430.2" y2="383.9"/>
<line x1="430.2" y1="396.5" x2="430.2" y2="433.9"/>
<line x1="431.8" y1="397.4" x2="431.8" y2="422.4"/>
<line x1="439.8" y1="390.5" x2="439.8" y2="421.5"/>
<line x1="440.8" y1="410.8" x2="440.8" y2="439.3"/>
<line x1="446.1" y1="386.2" x2="446.1" y2="424.1"/>
<line x1="450.9" y1="388.3" x2="450.9" y2="419.4"/>
<line x1="454.9" y1="348.2" x2="454.9" y2="374.8"/>
<line x1="455.7" y1="349.7" x2="455.7" y2="388.3"/>
<line x1="454.9" y1="364.3" x2="454.9" y2="398.4"/>
<line x1="458.1" y1="387.7" x2="458.1" y2="415.2"/>
<line x1="457.6" y1="403.9" x2="457.6" y2="431.6"/>
<line x1="460.2" y1="360.3" x2="460.2" y2="395.8"/>
<line x1="464.7" y1="395.4" x2="464.7" y2="421.3"/>
<line x1="466.9" y1="381.7" x2="466.9" y2="411.2"/>
<line x1="469.0" y1="387.0" x2="469.0" y2="420.5"/>
<line x1="471.7" y1="366.8" x2="471.7" y2="399.9"/>
<line x1="472.7" y1="374.7" x2="472.7" y2="408.7"/>
<line x1="474.8" y1="391.4" x2="474.8" y2="416.1"/>
<line x1="476.2" y1="402.1" x2="476.2" y2="425.1"/>
<line x1="475.4" y1="409.3" x2="475.4" y2="442.6"/>
<line x1="478.8" y1="373.5" x2="478.8" y2="402.8"/>
<line x1="480.2" y1="369.5" x2="480.2" y2="404.7"/>
<line x1="482.8" y1="387.0" x2="482.8" y2="411.6"/>
<line x1="481.5" y1="400.7" x2="481.5" y2="427.4"/>
<line x1="484.1" y1="388.5" x2="484.1" y2="413.2"/>
<line x1="486.8" y1="358.3" x2="486.8" y2="395.5"/>
<line x1="489.5" y1="370.4" x2="489.5" y2="396.0"/>
<line x1="492.9" y1="404.0" x2="492.9" y2="430.9"/>
<line x1="494.8" y1="393.1" x2="494.8" y2="430.1"/>
<line x1="496.1" y1="343.0" x2="496.1" y2="374.3"/>
<line x1="499.3" y1="354.1" x2="499.3" y2="391.0"/>
<line x1="503.5" y1="383.1" x2="503.5" y2="414.0"/>
<line x1="500.5" y1="356.0" x2="500.5" y2="390.7"/>
<line x1="502.1" y1="373.6" x2="502.1" y2="402.0"/>
<line x1="511.7" y1="342.2" x2="511.7" y2="376.0"/>
<line x1="521.3" y1="357.4" x2="521.3" y2="388.5"/>
<line x1="513.8" y1="421.8" x2="513.8" y2="452.2"/>
<line x1="527.9" y1="383.5" x2="527.9" y2="424.4"/>
<line x1="529.8" y1="376.8" x2="529.8" y2="412.6"/>
<line x1="533.5" y1="373.2" x2="533.5" y2="405.0"/>
<line x1="535.9" y1="401.5" x2="535.9" y2="438.0"/>
<line x1="537.7" y1="411.0" x2="537.7" y2="434.9"/>
<line x1="539.3" y1="410.6" x2="539.3" y2="440.2"/>
<line x1="539.9" y1="414.4" x2="539.9" y2="445.1"/>
<line x1="538.5" y1="415.2" x2="538.5" y2="454.3"/>
<line x1="542.0" y1="387.4" x2="542.0" y2="422.5"/>
<line x1="542.5" y1="392.3" x2="542.5" y2="432.3"/>
<line x1="545.7" y1="418.5" x2="545.7" y2="452.8"/>
<line x1="547.3" y1="401.4" x2="547.3" y2="441.2"/>
<line x1="548.4" y1="386.1" x2="548.4" y2="418.8"/>
<line x1="549.2" y1="405.1" x2="549.2" y2="441.6"/>
<line x1="550.5" y1="412.5" x2="550.5" y2="449.7"/>
<line x1="551.0" y1="434.2" x2="551.0" y2="467.8"/>
<line x1="552.6" y1="395.8" x2="552.6" y2="426.6"/>
<line x1="554.5" y1="380.6" x2="554.5" y2="415.4"/>
<line x1="556.3" y1="386.2" x2="556.3" y2="425.8"/>
<line x1="554.0" y1="420.7" x2="554.0" y2="451.0"/>
<line x1="557.9" y1="410.9" x2="557.9" y2="448.4"/>
<line x1="561.1" y1="381.4" x2="561.1" y2="405.7"/>
<line x1="563.8" y1="371.0" x2="563.8" y2="402.9"/>
<line x1="562.5" y1="419.3" x2="562.5" y2="447.7"/>
<line x1="560.6" y1="428.9" x2="560.6" y2="464.8"/>
<line x1="570.4" y1="419.4" x2="570.4" y2="448.2"/>
<line x1="577.6" y1="403.6" x2="577.6" y2="435.6"/>
<line x1="579.2" y1="368.0" x2="579.2" y2="399.7"/>
<line x1="579.2" y1="394.3" x2="579.2" y2="436.9"/>
<line x1="580.3" y1="394.8" x2="580.3" y2="430.7"/>
<line x1="578.2" y1="407.7" x2="578.2" y2="434.2"/>
<line x1="582.4" y1="410.4" x2="582.4" y2="447.5"/>
<line x1="585.6" y1="392.5" x2="585.6" y2="427.8"/>
<line x1="587.0" y1="407.5" x2="587.0" y2="434.8"/>
<line x1="584.3" y1="429.0" x2="584.3" y2="464.8"/>
<line x1="591.0" y1="408.2" x2="591.0" y2="449.4"/>
<line x1="593.1" y1="396.7" x2="593.1" y2="423.4"/>
<line x1="595.7" y1="416.0" x2="595.7" y2="449.1"/>
<line x1="597.6" y1="407.2" x2="597.6" y2="431.9"/>
<line x1="601.6" y1="386.9" x2="601.6" y2="416.8"/>
<line x1="601.0" y1="418.6" x2="601.0" y2="451.7"/>
<line x1="603.7" y1="392.9" x2="603.7" y2="422.2"/>
<line x1="606.4" y1="414.9" x2="606.4" y2="440.8"/>
<line x1="608.2" y1="390.7" x2="608.2" y2="432.5"/>
<line x1="609.0" y1="408.3" x2="609.0" y2="433.5"/>
<line x1="610.9" y1="419.0" x2="610.9" y2="446.1"/>
<line x1="614.3" y1="386.1" x2="614.3" y2="415.3"/>
<line x1="616.2" y1="417.0" x2="616.2" y2="443.7"/>
<line x1="619.7" y1="392.0" x2="619.7" y2="417.0"/>
<line x1="620.7" y1="378.6" x2="620.7" y2="410.8"/>
<line x1="622.8" y1="399.9" x2="622.8" y2="427.4"/>
<line x1="622.3" y1="421.7" x2="622.3" y2="449.2"/>
<line x1="625.5" y1="416.8" x2="625.5" y2="444.3"/>
<line x1="626.8" y1="383.7" x2="626.8" y2="423.1"/>
<line x1="629.5" y1="384.8" x2="629.5" y2="419.1"/>
<line x1="630.8" y1="371.9" x2="630.8" y2="395.8"/>
<line x1="631.3" y1="409.4" x2="631.3" y2="432.7"/>
<line x1="634.8" y1="396.5" x2="634.8" y2="433.1"/>
<line x1="636.7" y1="398.2" x2="636.7" y2="427.2"/>
<line x1="638.8" y1="399.0" x2="638.8" y2="430.6"/>
<line x1="640.1" y1="396.5" x2="640.1" y2="428.1"/>
<line x1="642.8" y1="412.8" x2="642.8" y2="454.8"/>
<line x1="644.6" y1="411.4" x2="644.6" y2="435.7"/>
<line x1="646.2" y1="388.2" x2="646.2" y2="416.8"/>
<line x1="647.3" y1="399.6" x2="647.3" y2="437.5"/>
<line x1="650.0" y1="407.7" x2="650.0" y2="441.6"/>
<line x1="652.1" y1="418.8" x2="652.1" y2="450.5"/>
<line x1="654.2" y1="393.7" x2="654.2" y2="425.3"/>
<line x1="651.3" y1="405.7" x2="651.3" y2="428.4"/>
<line x1="654.0" y1="425.8" x2="654.0" y2="455.2"/>
<line x1="655.9" y1="416.3" x2="655.9" y2="449.5"/>
<line x1="656.7" y1="416.5" x2="656.7" y2="439.5"/>
<line x1="659.3" y1="392.2" x2="659.3" y2="422.6"/>
<line x1="662.0" y1="417.9" x2="662.0" y2="443.5"/>
<line x1="663.3" y1="410.6" x2="663.3" y2="437.3"/>
<line x1="665.5" y1="410.2" x2="665.5" y2="439.3"/>
<line x1="664.7" y1="444.2" x2="664.7" y2="473.0"/>
<line x1="668.1" y1="392.5" x2="668.1" y2="416.5"/>
<line x1="670.0" y1="388.5" x2="670.0" y2="415.2"/>
<line x1="672.6" y1="383.1" x2="672.6" y2="418.5"/>
<line x1="673.4" y1="415.9" x2="673.4" y2="448.9"/>
<line x1="675.3" y1="387.2" x2="675.3" y2="421.4"/>
<line x1="676.1" y1="378.7" x2="676.1" y2="417.6"/>
<line x1="677.2" y1="364.3" x2="677.2" y2="398.4"/>
<line x1="678.8" y1="401.7" x2="678.8" y2="430.9"/>
<line x1="681.4" y1="404.7" x2="681.4" y2="435.5"/>
<line x1="682.5" y1="383.6" x2="682.5" y2="410.5"/>
<line x1="684.1" y1="373.3" x2="684.1" y2="411.5"/>
<line x1="685.2" y1="383.2" x2="685.2" y2="416.8"/>
<line x1="686.0" y1="396.9" x2="686.0" y2="432.5"/>
<line x1="688.6" y1="360.8" x2="688.6" y2="400.0"/>
<line x1="690.0" y1="383.5" x2="690.0" y2="410.4"/>
<line x1="692.1" y1="384.3" x2="692.1" y2="412.6"/>
<line x1="692.6" y1="404.7" x2="692.6" y2="436.8"/>
<line x1="694.8" y1="401.0" x2="694.8" y2="436.0"/>
<line x1="697.4" y1="375.2" x2="697.4" y2="398.8"/>
<line x1="699.3" y1="365.9" x2="699.3" y2="406.9"/>
<line x1="698.5" y1="414.5" x2="698.5" y2="443.7"/>
<line x1="700.6" y1="418.0" x2="700.6" y2="448.4"/>
<line x1="702.0" y1="404.8" x2="702.0" y2="438.6"/>
<line x1="703.8" y1="372.0" x2="703.8" y2="413.3"/>
<line x1="705.4" y1="386.0" x2="705.4" y2="411.3"/>
<line x1="707.3" y1="398.2" x2="707.3" y2="430.1"/>
<line x1="708.6" y1="417.3" x2="708.6" y2="456.5"/>
<line x1="710.0" y1="411.3" x2="710.0" y2="442.0"/>
<line x1="713.4" y1="371.0" x2="713.4" y2="403.2"/>
<line x1="715.3" y1="402.1" x2="715.3" y2="437.8"/>
<line x1="716.1" y1="397.5" x2="716.1" y2="431.7"/>
<line x1="718.7" y1="381.9" x2="718.7" y2="406.6"/>
<line x1="719.8" y1="423.6" x2="719.8" y2="459.5"/>
<line x1="722.5" y1="372.0" x2="722.5" y2="399.0"/>
<line x1="724.6" y1="394.6" x2="724.6" y2="424.3"/>
<line x1="725.9" y1="376.5" x2="725.9" y2="414.0"/>
<line x1="727.3" y1="404.5" x2="727.3" y2="434.5"/>
<line x1="729.9" y1="395.8" x2="729.9" y2="426.5"/>
<line x1="732.6" y1="388.5" x2="732.6" y2="424.2"/>
<line x1="459.6" y1="367.8" x2="459.6" y2="397.0"/>
<line x1="628.4" y1="378.0" x2="628.4" y2="406.6"/>
<line x1="456.0" y1="391.2" x2="456.0" y2="421.7"/>
<line x1="662.4" y1="409.0" x2="662.4" y2="435.9"/>
<line x1="458.1" y1="364.9" x2="458.1" y2="397.3"/>
<line x1="502.2" y1="391.5" x2="502.2" y2="420.5"/>
<line x1="478.3" y1="393.7" x2="478.3" y2="417.7"/>
<line x1="718.1" y1="355.2" x2="718.1" y2="397.6"/>
<line x1="462.2" y1="361.3" x2="462.2" y2="398.8"/>
<line x1="680.7" y1="383.6" x2="680.7" y2="424.8"/>
<line x1="693.0" y1="393.5" x2="693.0" y2="422.9"/>
<line x1="676.8" y1="405.3" x2="676.8" y2="431.6"/>
<line x1="698.3" y1="414.3" x2="698.3" y2="454.9"/>
<line x1="669.2" y1="383.3" x2="669.2" y2="411.4"/>
<line x1="429.9" y1="347.9" x2="429.9" y2="377.7"/>
<line x1="494.9" y1="375.8" x2="494.9" y2="408.5"/>
<line x1="611.3" y1="405.9" x2="611.3" y2="432.8"/>
<line x1="647.6" y1="417.6" x2="647.6" y2="448.1"/>
<line x1="642.8" y1="415.8" x2="642.8" y2="451.1"/>
<line x1="509.7" y1="426.1" x2="509.7" y2="460.2"/>
<line x1="642.3" y1="393.8" x2="642.3" y2="425.0"/>
<line x1="605.4" y1="400.6" x2="605.4" y2="427.4"/>
<line x1="554.9" y1="422.1" x2="554.9" y2="453.4"/>
<line x1="697.1" y1="404.9" x2="697.1" y2="434.7"/>
<line x1="653.0" y1="414.5" x2="653.0" y2="440.9"/>
<line x1="613.6" y1="416.3" x2="613.6" y2="448.1"/>
<line x1="456.3" y1="361.5" x2="456.3" y2="393.2"/>
<line x1="457.5" y1="382.4" x2="457.5" y2="409.6"/>
<line x1="686.7" y1="376.7" x2="686.7" y2="413.3"/>
<line x1="666.7" y1="441.6" x2="666.7" y2="475.8"/>
</g>
<g fill="#0505e8">
<ellipse cx="430.2" cy="371.2" rx="2.45" ry="2.2"/>
<ellipse cx="430.2" cy="415.9" rx="2.45" ry="2.2"/>
<ellipse cx="431.8" cy="409.8" rx="2.45" ry="2.2"/>
<ellipse cx="439.8" cy="406.3" rx="2.45" ry="2.2"/>
<ellipse cx="440.8" cy="425.7" rx="2.45" ry="2.2"/>
<ellipse cx="446.1" cy="405.8" rx="2.45" ry="2.2"/>
<ellipse cx="450.9" cy="403.7" rx="2.45" ry="2.2"/>
<ellipse cx="454.9" cy="361.9" rx="2.45" ry="2.2"/>
<ellipse cx="455.7" cy="368.6" rx="2.45" ry="2.2"/>
<ellipse cx="454.9" cy="380.5" rx="2.45" ry="2.2"/>
<ellipse cx="458.1" cy="401.0" rx="2.45" ry="2.2"/>
<ellipse cx="457.6" cy="417.0" rx="2.45" ry="2.2"/>
<ellipse cx="460.2" cy="377.1" rx="2.45" ry="2.2"/>
<ellipse cx="464.7" cy="407.9" rx="2.45" ry="2.2"/>
<ellipse cx="466.9" cy="396.5" rx="2.45" ry="2.2"/>
<ellipse cx="469.0" cy="404.5" rx="2.45" ry="2.2"/>
<ellipse cx="471.7" cy="384.5" rx="2.45" ry="2.2"/>
<ellipse cx="472.7" cy="392.0" rx="2.45" ry="2.2"/>
<ellipse cx="474.8" cy="404.5" rx="2.45" ry="2.2"/>
<ellipse cx="476.2" cy="414.3" rx="2.45" ry="2.2"/>
<ellipse cx="475.4" cy="426.5" rx="2.45" ry="2.2"/>
<ellipse cx="478.8" cy="388.5" rx="2.45" ry="2.2"/>
<ellipse cx="480.2" cy="385.9" rx="2.45" ry="2.2"/>
<ellipse cx="482.8" cy="400.0" rx="2.45" ry="2.2"/>
<ellipse cx="481.5" cy="413.8" rx="2.45" ry="2.2"/>
<ellipse cx="484.1" cy="401.8" rx="2.45" ry="2.2"/>
<ellipse cx="486.8" cy="376.0" rx="2.45" ry="2.2"/>
<ellipse cx="489.5" cy="384.0" rx="2.45" ry="2.2"/>
<ellipse cx="492.9" cy="417.7" rx="2.45" ry="2.2"/>
<ellipse cx="494.8" cy="411.6" rx="2.45" ry="2.2"/>
<ellipse cx="496.1" cy="358.0" rx="2.45" ry="2.2"/>
<ellipse cx="499.3" cy="372.6" rx="2.45" ry="2.2"/>
<ellipse cx="503.5" cy="399.1" rx="2.45" ry="2.2"/>
<ellipse cx="500.5" cy="372.6" rx="2.45" ry="2.2"/>
<ellipse cx="502.1" cy="388.5" rx="2.45" ry="2.2"/>
<ellipse cx="511.7" cy="358.0" rx="2.45" ry="2.2"/>
<ellipse cx="521.3" cy="372.6" rx="2.45" ry="2.2"/>
<ellipse cx="513.8" cy="438.2" rx="2.45" ry="2.2"/>
<ellipse cx="527.9" cy="402.6" rx="2.45" ry="2.2"/>
<ellipse cx="529.8" cy="393.8" rx="2.45" ry="2.2"/>
<ellipse cx="533.5" cy="389.8" rx="2.45" ry="2.2"/>
<ellipse cx="535.9" cy="418.5" rx="2.45" ry="2.2"/>
<ellipse cx="537.7" cy="423.1" rx="2.45" ry="2.2"/>
<ellipse cx="539.3" cy="424.4" rx="2.45" ry="2.2"/>
<ellipse cx="539.9" cy="429.7" rx="2.45" ry="2.2"/>
<ellipse cx="538.5" cy="435.0" rx="2.45" ry="2.2"/>
<ellipse cx="542.0" cy="405.3" rx="2.45" ry="2.2"/>
<ellipse cx="542.5" cy="411.6" rx="2.45" ry="2.2"/>
<ellipse cx="545.7" cy="435.0" rx="2.45" ry="2.2"/>
<ellipse cx="547.3" cy="420.4" rx="2.45" ry="2.2"/>
<ellipse cx="548.4" cy="401.8" rx="2.45" ry="2.2"/>
<ellipse cx="549.2" cy="424.4" rx="2.45" ry="2.2"/>
<ellipse cx="550.5" cy="432.4" rx="2.45" ry="2.2"/>
<ellipse cx="551.0" cy="451.5" rx="2.45" ry="2.2"/>
<ellipse cx="552.6" cy="411.6" rx="2.45" ry="2.2"/>
<ellipse cx="554.5" cy="398.3" rx="2.45" ry="2.2"/>
<ellipse cx="556.3" cy="405.8" rx="2.45" ry="2.2"/>
<ellipse cx="554.0" cy="436.4" rx="2.45" ry="2.2"/>
<ellipse cx="557.9" cy="428.4" rx="2.45" ry="2.2"/>
<ellipse cx="561.1" cy="393.8" rx="2.45" ry="2.2"/>
<ellipse cx="563.8" cy="387.7" rx="2.45" ry="2.2"/>
<ellipse cx="562.5" cy="433.7" rx="2.45" ry="2.2"/>
<ellipse cx="560.6" cy="447.0" rx="2.45" ry="2.2"/>
<ellipse cx="570.4" cy="433.7" rx="2.45" ry="2.2"/>
<ellipse cx="577.6" cy="420.4" rx="2.45" ry="2.2"/>
<ellipse cx="579.2" cy="384.0" rx="2.45" ry="2.2"/>
<ellipse cx="579.2" cy="414.3" rx="2.45" ry="2.2"/>
<ellipse cx="580.3" cy="413.8" rx="2.45" ry="2.2"/>
<ellipse cx="578.2" cy="420.4" rx="2.45" ry="2.2"/>
<ellipse cx="582.4" cy="429.7" rx="2.45" ry="2.2"/>
<ellipse cx="585.6" cy="410.6" rx="2.45" ry="2.2"/>
<ellipse cx="587.0" cy="420.4" rx="2.45" ry="2.2"/>
<ellipse cx="584.3" cy="447.0" rx="2.45" ry="2.2"/>
<ellipse cx="591.0" cy="427.6" rx="2.45" ry="2.2"/>
<ellipse cx="593.1" cy="411.1" rx="2.45" ry="2.2"/>
<ellipse cx="595.7" cy="432.4" rx="2.45" ry="2.2"/>
<ellipse cx="597.6" cy="420.4" rx="2.45" ry="2.2"/>
<ellipse cx="601.6" cy="401.8" rx="2.45" ry="2.2"/>
<ellipse cx="601.0" cy="434.5" rx="2.45" ry="2.2"/>
<ellipse cx="603.7" cy="408.4" rx="2.45" ry="2.2"/>
<ellipse cx="606.4" cy="428.4" rx="2.45" ry="2.2"/>
<ellipse cx="608.2" cy="410.6" rx="2.45" ry="2.2"/>
<ellipse cx="609.0" cy="420.4" rx="2.45" ry="2.2"/>
<ellipse cx="610.9" cy="432.4" rx="2.45" ry="2.2"/>
<ellipse cx="614.3" cy="400.5" rx="2.45" ry="2.2"/>
<ellipse cx="616.2" cy="431.0" rx="2.45" ry="2.2"/>
<ellipse cx="619.7" cy="404.5" rx="2.45" ry="2.2"/>
<ellipse cx="620.7" cy="393.8" rx="2.45" ry="2.2"/>
<ellipse cx="622.8" cy="413.8" rx="2.45" ry="2.2"/>
<ellipse cx="622.3" cy="436.4" rx="2.45" ry="2.2"/>
<ellipse cx="625.5" cy="429.7" rx="2.45" ry="2.2"/>
<ellipse cx="626.8" cy="402.6" rx="2.45" ry="2.2"/>
<ellipse cx="629.5" cy="403.1" rx="2.45" ry="2.2"/>
<ellipse cx="630.8" cy="384.0" rx="2.45" ry="2.2"/>
<ellipse cx="631.3" cy="421.7" rx="2.45" ry="2.2"/>
<ellipse cx="634.8" cy="413.8" rx="2.45" ry="2.2"/>
<ellipse cx="636.7" cy="412.4" rx="2.45" ry="2.2"/>
<ellipse cx="638.8" cy="413.8" rx="2.45" ry="2.2"/>
<ellipse cx="640.1" cy="412.4" rx="2.45" ry="2.2"/>
<ellipse cx="642.8" cy="432.4" rx="2.45" ry="2.2"/>
<ellipse cx="644.6" cy="424.4" rx="2.45" ry="2.2"/>
<ellipse cx="646.2" cy="403.1" rx="2.45" ry="2.2"/>
<ellipse cx="647.3" cy="417.7" rx="2.45" ry="2.2"/>
<ellipse cx="650.0" cy="424.4" rx="2.45" ry="2.2"/>
<ellipse cx="652.1" cy="433.7" rx="2.45" ry="2.2"/>
<ellipse cx="654.2" cy="409.8" rx="2.45" ry="2.2"/>
<ellipse cx="651.3" cy="418.0" rx="2.45" ry="2.2"/>
<ellipse cx="654.0" cy="440.6" rx="2.45" ry="2.2"/>
<ellipse cx="655.9" cy="433.9" rx="2.45" ry="2.2"/>
<ellipse cx="656.7" cy="428.6" rx="2.45" ry="2.2"/>
<ellipse cx="659.3" cy="408.1" rx="2.45" ry="2.2"/>
<ellipse cx="662.0" cy="431.3" rx="2.45" ry="2.2"/>
<ellipse cx="663.3" cy="424.1" rx="2.45" ry="2.2"/>
<ellipse cx="665.5" cy="424.6" rx="2.45" ry="2.2"/>
<ellipse cx="664.7" cy="457.9" rx="2.45" ry="2.2"/>
<ellipse cx="668.1" cy="405.4" rx="2.45" ry="2.2"/>
<ellipse cx="670.0" cy="402.8" rx="2.45" ry="2.2"/>
<ellipse cx="672.6" cy="401.2" rx="2.45" ry="2.2"/>
<ellipse cx="673.4" cy="432.6" rx="2.45" ry="2.2"/>
<ellipse cx="675.3" cy="405.4" rx="2.45" ry="2.2"/>
<ellipse cx="676.1" cy="397.4" rx="2.45" ry="2.2"/>
<ellipse cx="677.2" cy="382.0" rx="2.45" ry="2.2"/>
<ellipse cx="678.8" cy="415.3" rx="2.45" ry="2.2"/>
<ellipse cx="681.4" cy="419.8" rx="2.45" ry="2.2"/>
<ellipse cx="682.5" cy="398.0" rx="2.45" ry="2.2"/>
<ellipse cx="684.1" cy="391.3" rx="2.45" ry="2.2"/>
<ellipse cx="685.2" cy="400.1" rx="2.45" ry="2.2"/>
<ellipse cx="686.0" cy="413.9" rx="2.45" ry="2.2"/>
<ellipse cx="688.6" cy="379.8" rx="2.45" ry="2.2"/>
<ellipse cx="690.0" cy="397.4" rx="2.45" ry="2.2"/>
<ellipse cx="692.1" cy="398.5" rx="2.45" ry="2.2"/>
<ellipse cx="692.6" cy="421.9" rx="2.45" ry="2.2"/>
<ellipse cx="694.8" cy="419.8" rx="2.45" ry="2.2"/>
<ellipse cx="697.4" cy="387.3" rx="2.45" ry="2.2"/>
<ellipse cx="699.3" cy="385.2" rx="2.45" ry="2.2"/>
<ellipse cx="698.5" cy="428.6" rx="2.45" ry="2.2"/>
<ellipse cx="700.6" cy="432.6" rx="2.45" ry="2.2"/>
<ellipse cx="702.0" cy="421.9" rx="2.45" ry="2.2"/>
<ellipse cx="703.8" cy="391.3" rx="2.45" ry="2.2"/>
<ellipse cx="705.4" cy="398.5" rx="2.45" ry="2.2"/>
<ellipse cx="707.3" cy="413.9" rx="2.45" ry="2.2"/>
<ellipse cx="708.6" cy="435.8" rx="2.45" ry="2.2"/>
<ellipse cx="710.0" cy="427.3" rx="2.45" ry="2.2"/>
<ellipse cx="713.4" cy="387.8" rx="2.45" ry="2.2"/>
<ellipse cx="715.3" cy="419.8" rx="2.45" ry="2.2"/>
<ellipse cx="716.1" cy="414.5" rx="2.45" ry="2.2"/>
<ellipse cx="718.7" cy="394.0" rx="2.45" ry="2.2"/>
<ellipse cx="719.8" cy="442.7" rx="2.45" ry="2.2"/>
<ellipse cx="722.5" cy="386.0" rx="2.45" ry="2.2"/>
<ellipse cx="724.6" cy="410.0" rx="2.45" ry="2.2"/>
<ellipse cx="725.9" cy="395.3" rx="2.45" ry="2.2"/>
<ellipse cx="727.3" cy="419.3" rx="2.45" ry="2.2"/>
<ellipse cx="729.9" cy="411.3" rx="2.45" ry="2.2"/>
<ellipse cx="732.6" cy="405.4" rx="2.45" ry="2.2"/>
<ellipse cx="459.6" cy="382.6" rx="2.45" ry="2.2"/>
<ellipse cx="628.4" cy="392.3" rx="2.45" ry="2.2"/>
<ellipse cx="456.0" cy="407.3" rx="2.45" ry="2.2"/>
<ellipse cx="662.4" cy="422.4" rx="2.45" ry="2.2"/>
<ellipse cx="458.1" cy="380.0" rx="2.45" ry="2.2"/>
<ellipse cx="502.2" cy="405.2" rx="2.45" ry="2.2"/>
<ellipse cx="478.3" cy="406.6" rx="2.45" ry="2.2"/>
<ellipse cx="718.1" cy="374.9" rx="2.45" ry="2.2"/>
<ellipse cx="462.2" cy="379.8" rx="2.45" ry="2.2"/>
<ellipse cx="680.7" cy="403.2" rx="2.45" ry="2.2"/>
<ellipse cx="693.0" cy="408.8" rx="2.45" ry="2.2"/>
<ellipse cx="676.8" cy="419.4" rx="2.45" ry="2.2"/>
<ellipse cx="698.3" cy="433.5" rx="2.45" ry="2.2"/>
<ellipse cx="669.2" cy="397.4" rx="2.45" ry="2.2"/>
<ellipse cx="429.9" cy="363.4" rx="2.45" ry="2.2"/>
<ellipse cx="494.9" cy="392.7" rx="2.45" ry="2.2"/>
<ellipse cx="611.3" cy="419.6" rx="2.45" ry="2.2"/>
<ellipse cx="647.6" cy="433.5" rx="2.45" ry="2.2"/>
<ellipse cx="642.8" cy="434.2" rx="2.45" ry="2.2"/>
<ellipse cx="509.7" cy="442.9" rx="2.45" ry="2.2"/>
<ellipse cx="642.3" cy="408.4" rx="2.45" ry="2.2"/>
<ellipse cx="605.4" cy="413.7" rx="2.45" ry="2.2"/>
<ellipse cx="554.9" cy="437.7" rx="2.45" ry="2.2"/>
<ellipse cx="697.1" cy="420.6" rx="2.45" ry="2.2"/>
<ellipse cx="653.0" cy="428.8" rx="2.45" ry="2.2"/>
<ellipse cx="613.6" cy="431.4" rx="2.45" ry="2.2"/>
<ellipse cx="456.3" cy="376.5" rx="2.45" ry="2.2"/>
<ellipse cx="457.5" cy="395.3" rx="2.45" ry="2.2"/>
<ellipse cx="686.7" cy="395.9" rx="2.45" ry="2.2"/>
<ellipse cx="666.7" cy="460.0" rx="2.45" ry="2.2"/>
</g>
</g>
<g clip-path="url(#c2427)"><path d="M427.40,403.00 C430.68,402.25 440.60,399.67 447.10,398.50 C453.60,397.33 459.97,396.32 466.40,396.00 C472.83,395.68 479.73,395.92 485.70,396.60 C491.67,397.28 496.22,398.50 502.20,400.10 C508.18,401.70 515.15,403.90 521.60,406.20 C528.05,408.50 534.47,411.60 540.90,413.90 C547.33,416.20 553.77,418.52 560.20,420.00 C566.63,421.48 573.35,422.25 579.50,422.80 C585.65,423.35 590.50,423.67 597.10,423.30 C603.70,422.93 611.75,421.52 619.10,420.60 C626.45,419.68 633.83,418.82 641.20,417.80 C648.57,416.78 655.95,415.42 663.30,414.50 C670.65,413.58 677.95,413.22 685.30,412.30 C692.65,411.38 700.50,410.20 707.40,409.00 C714.30,407.80 722.40,406.05 726.70,405.10 C731.00,404.15 732.12,403.60 733.20,403.30" fill="none" stroke="#ff0000" stroke-width="3" stroke-dasharray="8.3 7.2"/></g>
<rect x="52.0" y="19.0" width="305.30" height="139.50" fill="none" stroke="#3a3a3a" stroke-width="1.15"/>
<rect x="427.4" y="19.0" width="305.80" height="139.50" fill="none" stroke="#3a3a3a" stroke-width="1.15"/>
<rect x="52.0" y="180.3" width="305.30" height="139.90" fill="none" stroke="#3a3a3a" stroke-width="1.15"/>
<rect x="427.4" y="180.3" width="305.80" height="139.90" fill="none" stroke="#3a3a3a" stroke-width="1.15"/>
<rect x="52.0" y="342.1" width="305.30" height="139.10" fill="none" stroke="#3a3a3a" stroke-width="1.15"/>
<rect x="427.4" y="342.1" width="305.80" height="139.10" fill="none" stroke="#3a3a3a" stroke-width="1.15"/>
<text transform="translate(39.83,163.10) scale(1.200,1)" font-size="12.03" fill="#000">0</text>
<text transform="translate(27.83,123.40) scale(1.200,1)" font-size="12.03" fill="#000">0.5</text>
<text transform="translate(39.98,83.70) scale(1.183,1)" font-size="12.21" fill="#000">1</text>
<text transform="translate(27.83,44.00) scale(1.183,1)" font-size="12.21" fill="#000">1.5</text>
<text transform="translate(48.59,173.90) scale(1.200,1)" font-size="12.03" fill="#000">0</text>
<text transform="translate(84.93,173.90) scale(1.200,1)" font-size="12.03" fill="#000">0.02</text>
<text transform="translate(131.08,173.90) scale(1.200,1)" font-size="12.03" fill="#000">0.04</text>
<text transform="translate(177.48,173.90) scale(1.200,1)" font-size="12.03" fill="#000">0.06</text>
<text transform="translate(223.78,173.90) scale(1.200,1)" font-size="12.03" fill="#000">0.08</text>
<text transform="translate(274.14,173.90) scale(1.200,1)" font-size="12.03" fill="#000">0.1</text>
<text transform="translate(316.43,173.90) scale(1.200,1)" font-size="12.03" fill="#000">0.12</text>
<text transform="translate(406.66,149.60) scale(1.183,1)" font-size="12.21" fill="#000">−4</text>
<text transform="translate(406.96,121.40) scale(1.200,1)" font-size="12.03" fill="#000">−2</text>
<text transform="translate(415.23,93.20) scale(1.200,1)" font-size="12.03" fill="#000">0</text>
<text transform="translate(415.39,65.00) scale(1.200,1)" font-size="12.03" fill="#000">2</text>
<text transform="translate(415.09,36.80) scale(1.183,1)" font-size="12.21" fill="#000">4</text>
<text transform="translate(39.83,324.90) scale(1.200,1)" font-size="12.03" fill="#000">0</text>
<text transform="translate(27.83,283.10) scale(1.200,1)" font-size="12.03" fill="#000">0.5</text>
<text transform="translate(39.98,241.30) scale(1.183,1)" font-size="12.21" fill="#000">1</text>
<text transform="translate(27.83,199.50) scale(1.183,1)" font-size="12.21" fill="#000">1.5</text>
<text transform="translate(91.92,335.60) scale(1.200,1)" font-size="12.03" fill="#000">0.01</text>
<text transform="translate(148.23,335.60) scale(1.200,1)" font-size="12.03" fill="#000">0.02</text>
<text transform="translate(204.48,335.60) scale(1.200,1)" font-size="12.03" fill="#000">0.03</text>
<text transform="translate(260.68,335.60) scale(1.200,1)" font-size="12.03" fill="#000">0.04</text>
<text transform="translate(317.07,335.60) scale(1.200,1)" font-size="12.03" fill="#000">0.05</text>
<text transform="translate(398.77,308.00) scale(1.200,1)" font-size="12.03" fill="#000">−20</text>
<text transform="translate(398.77,281.00) scale(1.200,1)" font-size="12.03" fill="#000">−10</text>
<text transform="translate(415.23,254.00) scale(1.200,1)" font-size="12.03" fill="#000">0</text>
<text transform="translate(407.20,227.00) scale(1.200,1)" font-size="12.03" fill="#000">10</text>
<text transform="translate(407.20,200.00) scale(1.200,1)" font-size="12.03" fill="#000">20</text>
<text transform="translate(39.83,485.90) scale(1.200,1)" font-size="12.03" fill="#000">0</text>
<text transform="translate(39.98,451.60) scale(1.183,1)" font-size="12.21" fill="#000">1</text>
<text transform="translate(39.99,417.30) scale(1.200,1)" font-size="12.03" fill="#000">2</text>
<text transform="translate(39.91,383.00) scale(1.200,1)" font-size="12.03" fill="#000">3</text>
<text transform="translate(39.69,348.70) scale(1.183,1)" font-size="12.21" fill="#000">4</text>
<text transform="translate(48.56,496.60) scale(1.200,1)" font-size="12.03" fill="#000">0</text>
<text transform="translate(111.23,496.60) scale(1.200,1)" font-size="12.03" fill="#000">0.02</text>
<text transform="translate(183.71,496.60) scale(1.200,1)" font-size="12.03" fill="#000">0.04</text>
<text transform="translate(256.46,496.60) scale(1.200,1)" font-size="12.03" fill="#000">0.06</text>
<text transform="translate(329.08,496.60) scale(1.200,1)" font-size="12.03" fill="#000">0.08</text>
<text transform="translate(398.77,474.10) scale(1.200,1)" font-size="12.03" fill="#000">−10</text>
<text transform="translate(406.84,444.80) scale(1.183,1)" font-size="12.21" fill="#000">−5</text>
<text transform="translate(415.23,415.50) scale(1.200,1)" font-size="12.03" fill="#000">0</text>
<text transform="translate(415.28,386.20) scale(1.183,1)" font-size="12.21" fill="#000">5</text>
<text transform="translate(407.20,356.90) scale(1.200,1)" font-size="12.03" fill="#000">10</text>
<text transform="translate(423.39,496.60) scale(1.200,1)" font-size="12.03" fill="#000">0</text>
<text transform="translate(478.60,496.60) scale(1.200,1)" font-size="12.03" fill="#000">0.2</text>
<text transform="translate(539.61,496.60) scale(1.200,1)" font-size="12.03" fill="#000">0.4</text>
<text transform="translate(600.88,496.60) scale(1.200,1)" font-size="12.03" fill="#000">0.6</text>
<text transform="translate(662.03,496.60) scale(1.200,1)" font-size="12.03" fill="#000">0.8</text>
<text transform="translate(728.99,496.60) scale(1.183,1)" font-size="12.21" fill="#000">1</text>
<text transform="translate(51.73,13.90) scale(1.193,1)" font-size="12.03" fill="#000">x 10</text>
<text transform="translate(78.84,5.90) scale(1.098,1)" font-size="8.58" fill="#000">−7</text>
<text transform="translate(51.73,174.40) scale(1.193,1)" font-size="12.03" fill="#000">x 10</text>
<text transform="translate(78.85,165.50) scale(1.076,1)" font-size="8.58" fill="#000">−4</text>
<text transform="translate(51.73,335.80) scale(1.193,1)" font-size="12.03" fill="#000">x 10</text>
<text transform="translate(78.84,328.20) scale(1.107,1)" font-size="8.45" fill="#000">−6</text>
<text transform="translate(439.43,37.40) scale(1.135,1)" font-size="12.61" fill="#000">KOI 1074.01</text>
<text transform="translate(439.22,199.10) scale(1.143,1)" font-size="12.61" fill="#000">KOI 1458.01</text>
<text transform="translate(439.12,359.90) scale(1.137,1)" font-size="12.61" fill="#000">KOI 1804.01</text>
<text transform="translate(558.71,135.20) scale(1.252,1)" font-size="11.59" fill="#000">P = 27.730 d</text>
<text transform="translate(559.87,149.10) scale(1.267,1)" font-size="11.31" fill="#000">A = 0.51 min</text>
<text transform="translate(558.71,296.00) scale(1.252,1)" font-size="11.59" fill="#000">P = 46.688 d</text>
<text transform="translate(559.87,310.50) scale(1.275,1)" font-size="11.31" fill="#000">A = 7.3 min</text>
<text transform="translate(558.71,457.70) scale(1.249,1)" font-size="11.59" fill="#000">P = 23.532 d</text>
<text transform="translate(559.87,471.70) scale(1.275,1)" font-size="11.31" fill="#000">A = 2.3 min</text>
<text transform="translate(139.61,521.60) scale(1.245,1)" font-size="18.48" fill="#000">Freq [1/d]</text>
<text transform="translate(564.39,521.30) scale(1.260,1)" font-size="18.48" fill="#000">Phase</text>
<text transform="translate(15.00,357.27) rotate(-90) scale(1,1.093)" font-size="17.92" fill="#000">Normalized Power Spectrum</text>
<text transform="translate(394.60,284.44) rotate(-90) scale(1,1.161)" font-size="17.82" fill="#000">O−C [min]</text>
</svg>
</body></html>
